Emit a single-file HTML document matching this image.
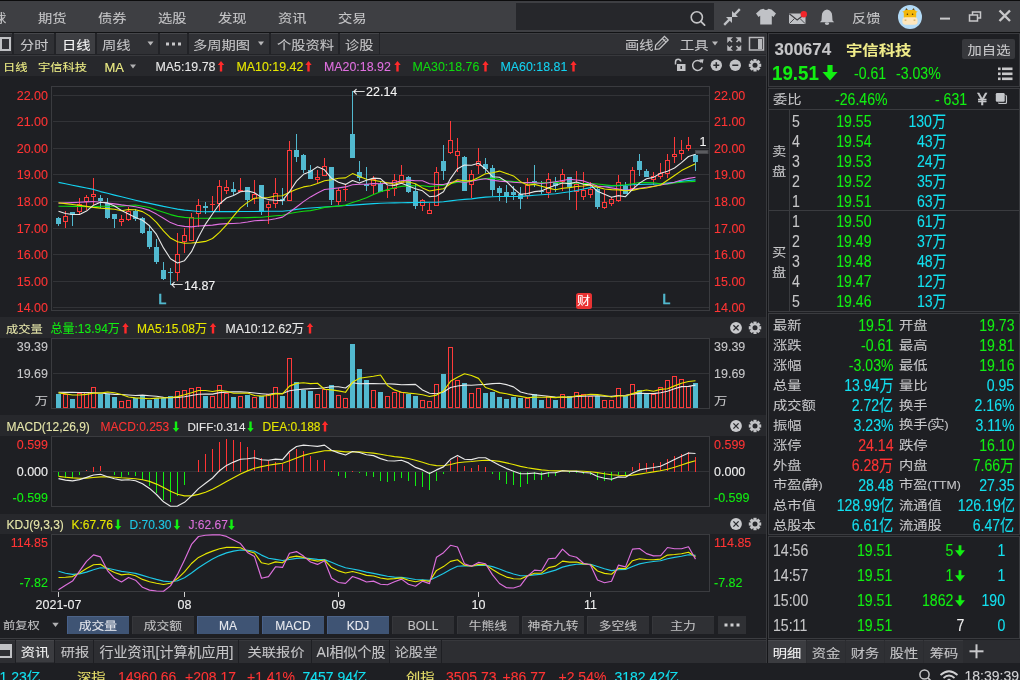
<!DOCTYPE html>
<html><head><meta charset="utf-8"><style>
html,body{margin:0;padding:0;background:#1e1f23;}
body{width:1020px;height:680px;overflow:hidden;position:relative;font-family:"Liberation Sans", "Noto Sans CJK SC", sans-serif;}
.t{position:absolute;white-space:nowrap;-webkit-text-stroke:0.1px currentColor;}
.p{font-size:12px;}
.q{font-size:12px;letter-spacing:-1.3px;}
.cj{transform:scale(1.02,0.87);transform-origin:left center;}
svg{position:absolute;left:0;top:0;}
</style></head><body>
<svg width="1020" height="680" viewBox="0 0 1020 680">
<rect x="0" y="0" width="1020" height="680" fill="#1e1f23" />
<rect x="0" y="0" width="1020" height="1" fill="#0c0c0d" />
<rect x="0" y="1" width="1020" height="31" fill="#3e3f43" />
<rect x="0" y="32" width="1020" height="1" fill="#111214" />
<rect x="0" y="33" width="766" height="22" fill="#303135" />
<rect x="0" y="33" width="766" height="1" fill="#3c3d41" />
<rect x="0" y="54" width="766" height="1" fill="#242529" />
<rect x="0" y="55" width="766" height="1" fill="#38393d" />
<rect x="0" y="56" width="766" height="20" fill="#27282c" />
<rect x="0" y="317" width="766" height="21" fill="#27282c" />
<rect x="0" y="415" width="766" height="21" fill="#27282c" />
<rect x="0" y="514" width="766" height="20" fill="#27282c" />
<rect x="766" y="33" width="2" height="630" fill="#151619" />
<rect x="766" y="33" width="1" height="630" fill="#38393d" />
<rect x="516" y="3" width="198" height="27" fill="#26272b" />
<circle cx="696.8" cy="17.3" r="5.6" fill="none" stroke="#c4c4c6" stroke-width="1.6"/>
<line x1="700.8" y1="21.3" x2="704.6" y2="25.1" stroke="#c4c4c6" stroke-width="1.8" stroke-linecap="round"/>
<g fill="#c0c2c6"><polygon points="732,11 732,17 738,17"/><polygon points="726,17 732,17 732,23"/></g><g stroke="#c0c2c6" stroke-width="2.3" stroke-linecap="square"><line x1="735" y1="14" x2="739" y2="10"/><line x1="729" y1="20" x2="725" y2="24"/></g>
<path d="M760.5,9.5 L763.5,8.8 Q766,11.2 768.5,8.8 L771.5,9.5 L776,13.5 L773.5,17 L771.8,15.8 L771.8,24.5 L760.2,24.5 L760.2,15.8 L758.5,17 L756,13.5 Z" fill="#c0c2c6"/>
<rect x="789" y="13.5" width="16.5" height="10.5" fill="#c0c2c6"/><path d="M789.3,13.8 L797.2,20 L805.2,13.8" fill="none" stroke="#3c3d41" stroke-width="1.1"/><path d="M789.3,23.7 L794.5,18.5 M805.2,23.7 L800,18.5" fill="none" stroke="#3c3d41" stroke-width="0.9"/>
<circle cx="803.8" cy="14.2" r="3.2" fill="#f2262b"/>
<path d="M827,9.5 Q832.2,10.5 832.2,16 L832.5,20.5 L834.2,22.3 L819.8,22.3 L821.5,20.5 L821.8,16 Q821.8,10.5 827,9.5 Z" fill="#c0c2c6"/><ellipse cx="827" cy="23.6" rx="2.2" ry="1.3" fill="#c0c2c6"/>
<circle cx="910" cy="17" r="12" fill="#b3dbf7"/><path d="M905.6,10.6 L906.4,8.6 L907.6,10.4 Z M914.4,10.6 L913.6,8.6 L912.4,10.4 Z" fill="#6b4a12" stroke="#6b4a12" stroke-width="0.8"/><path d="M902.2,11.6 L906,11 L906,14 Z M917.8,11.6 L914,11 L914,14 Z" fill="#f2b50e"/><rect x="903.8" y="10" width="12.4" height="8.6" rx="2.2" fill="#f4b80c"/><rect x="902.4" y="17.2" width="15.2" height="7.6" rx="3.2" fill="#fde6bd"/><circle cx="907.4" cy="14.3" r="0.8" fill="#4a3208"/><circle cx="912.6" cy="14.3" r="0.8" fill="#4a3208"/><rect x="904.6" y="19.4" width="1.8" height="1.6" fill="#d9b878"/><rect x="913.6" y="19.4" width="1.8" height="1.6" fill="#d9b878"/>
<rect x="940" y="17.6" width="10" height="2" fill="#c8c8ca" />
<g fill="none" stroke="#c8c8ca" stroke-width="1.5"><rect x="969.5" y="15" width="8" height="6"/><path d="M972.5,15 L972.5,12 L980.5,12 L980.5,18 L977.5,18"/></g>
<path d="M999.5,10.5 L1010,21 M1010,10.5 L999.5,21" stroke="#c8c8ca" stroke-width="2.4"/>
<rect x="-2" y="33" width="15" height="22" fill="#222327" />
<rect x="-1" y="33" width="13" height="21" fill="#303135" />
<rect x="-1" y="33" width="13" height="1" fill="#46474b" />
<rect x="-3" y="38" width="13" height="12" fill="none" stroke="#c0c1c4" stroke-width="2"/>
<rect x="-3" y="39" width="5" height="10" fill="#c0c1c4" />
<rect x="13" y="33" width="42" height="22" fill="#222327" />
<rect x="14" y="33" width="40" height="21" fill="#303135" />
<rect x="14" y="33" width="40" height="1" fill="#46474b" />
<rect x="55" y="33" width="41" height="22" fill="#222327" />
<rect x="56" y="33" width="39" height="21" fill="#3d3e42" />
<rect x="56" y="33" width="39" height="1" fill="#46474b" />
<rect x="96" y="33" width="63" height="22" fill="#222327" />
<rect x="97" y="33" width="61" height="21" fill="#303135" />
<rect x="97" y="33" width="61" height="1" fill="#46474b" />
<rect x="159" y="33" width="29" height="22" fill="#222327" />
<rect x="160" y="33" width="27" height="21" fill="#303135" />
<rect x="160" y="33" width="27" height="1" fill="#46474b" />
<rect x="188" y="33" width="82" height="22" fill="#222327" />
<rect x="189" y="33" width="80" height="21" fill="#303135" />
<rect x="189" y="33" width="80" height="1" fill="#46474b" />
<rect x="270" y="33" width="69" height="22" fill="#222327" />
<rect x="271" y="33" width="67" height="21" fill="#303135" />
<rect x="271" y="33" width="67" height="1" fill="#46474b" />
<rect x="339" y="33" width="41" height="22" fill="#222327" />
<rect x="340" y="33" width="39" height="21" fill="#303135" />
<rect x="340" y="33" width="39" height="1" fill="#46474b" />
<polygon points="147.5,41.5 153.5,41.5 150.5,45.5" fill="#b8b8ba"/>
<polygon points="258.0,41.5 264.0,41.5 261,45.5" fill="#b8b8ba"/>
<rect x="166.0" y="42.5" width="3" height="3" fill="#c8c8ca" />
<rect x="172.0" y="42.5" width="3" height="3" fill="#c8c8ca" />
<rect x="178.0" y="42.5" width="3" height="3" fill="#c8c8ca" />
<g transform="translate(661,43.5) rotate(135)"><path d="M-7.5,-2.6 L5,-2.6 L8.2,0 L5,2.6 L-7.5,2.6 Z" fill="none" stroke="#c4c4c6" stroke-width="1.3"/><line x1="-4.5" y1="-2.6" x2="-4.5" y2="2.6" stroke="#c4c4c6" stroke-width="1.2"/><line x1="-6.5" y1="0" x2="4" y2="0" stroke="#c4c4c6" stroke-width="0.9"/></g>
<polygon points="712.0,41.5 718.0,41.5 715,45.5" fill="#b8b8ba"/>
<g fill="#b8b9bc" stroke="#b8b9bc" stroke-width="1.6"><path d="M727.5,37.5 L732.5,37.5 L727.5,42.5 Z" stroke-width="0.5"/><line x1="728.5" y1="38.5" x2="732" y2="42"/><path d="M741,37.5 L736,37.5 L741,42.5 Z" stroke-width="0.5"/><line x1="740" y1="38.5" x2="736.5" y2="42"/><path d="M727.5,50.5 L732.5,50.5 L727.5,45.5 Z" stroke-width="0.5"/><line x1="728.5" y1="49.5" x2="732" y2="46"/><path d="M741,50.5 L736,50.5 L741,45.5 Z" stroke-width="0.5"/><line x1="740" y1="49.5" x2="736.5" y2="46"/></g>
<rect x="749.5" y="37.5" width="14" height="12.5" fill="none" stroke="#b8b9bc" stroke-width="1.5"/>
<rect x="758" y="39" width="4" height="10" fill="#b8b9bc" />
<polygon points="130.0,64.5 136.0,64.5 133,68.5" fill="#b0b0b2"/>
<path d="M221.0,61.0 L224.2,65.0 L222.2,65.0 L222.2,71.5 L219.8,71.5 L219.8,65.0 L217.8,65.0 Z" fill="#ff2a2a"/>
<path d="M308.5,61.0 L311.7,65.0 L309.7,65.0 L309.7,71.5 L307.3,71.5 L307.3,65.0 L305.3,65.0 Z" fill="#ff2a2a"/>
<path d="M397.5,61.0 L400.7,65.0 L398.7,65.0 L398.7,71.5 L396.3,71.5 L396.3,65.0 L394.3,65.0 Z" fill="#ff2a2a"/>
<path d="M485.5,61.0 L488.7,65.0 L486.7,65.0 L486.7,71.5 L484.3,71.5 L484.3,65.0 L482.3,65.0 Z" fill="#ff2a2a"/>
<path d="M573.5,61.0 L576.7,65.0 L574.7,65.0 L574.7,71.5 L572.3,71.5 L572.3,65.0 L570.3,65.0 Z" fill="#ff2a2a"/>
<g fill="#c2c3c6"><rect x="677" y="64" width="8.5" height="7"/></g><path d="M675.5,64.5 L675.5,62 Q675.5,59.3 678.2,59.3 Q680.5,59.3 680.8,61.5" fill="none" stroke="#c2c3c6" stroke-width="1.5"/><rect x="680.5" y="66" width="1.4" height="3" fill="#27282c"/>
<path d="M701.5,62.2 A5,5 0 1 0 702.3,67.2" fill="none" stroke="#c2c3c6" stroke-width="1.5"/><polygon points="699.2,59.6 703.6,59.2 702.6,63.6" fill="#c2c3c6"/>
<circle cx="716.3" cy="65.2" r="5.7" fill="#c2c3c6"/>
<rect x="713.3" y="64.5" width="6" height="1.5" fill="#27282c" />
<rect x="715.55" y="62.2" width="1.5" height="6" fill="#27282c" />
<circle cx="735.3" cy="65.2" r="5.7" fill="#c2c3c6"/>
<rect x="732.3" y="64.5" width="6" height="1.5" fill="#27282c" />
<rect x="753.4" y="59.099999999999994" width="3.2" height="3" fill="#c2c3c6" transform="rotate(0 755 65.3)"/><rect x="753.4" y="59.099999999999994" width="3.2" height="3" fill="#c2c3c6" transform="rotate(45 755 65.3)"/><rect x="753.4" y="59.099999999999994" width="3.2" height="3" fill="#c2c3c6" transform="rotate(90 755 65.3)"/><rect x="753.4" y="59.099999999999994" width="3.2" height="3" fill="#c2c3c6" transform="rotate(135 755 65.3)"/><rect x="753.4" y="59.099999999999994" width="3.2" height="3" fill="#c2c3c6" transform="rotate(180 755 65.3)"/><rect x="753.4" y="59.099999999999994" width="3.2" height="3" fill="#c2c3c6" transform="rotate(225 755 65.3)"/><rect x="753.4" y="59.099999999999994" width="3.2" height="3" fill="#c2c3c6" transform="rotate(270 755 65.3)"/><rect x="753.4" y="59.099999999999994" width="3.2" height="3" fill="#c2c3c6" transform="rotate(315 755 65.3)"/><circle cx="755" cy="65.3" r="4.4" fill="#c2c3c6"/><circle cx="755" cy="65.3" r="2.5" fill="#27282c"/>
<rect x="51.5" y="86.5" width="658" height="224" fill="none" stroke="#3a3b3f" stroke-width="1"/>
<line x1="53" y1="95.5" x2="709" y2="95.5" stroke="#323337" stroke-width="1"/>
<line x1="53" y1="121.5" x2="709" y2="121.5" stroke="#323337" stroke-width="1"/>
<line x1="53" y1="148.5" x2="709" y2="148.5" stroke="#323337" stroke-width="1"/>
<line x1="53" y1="174.5" x2="709" y2="174.5" stroke="#323337" stroke-width="1"/>
<line x1="53" y1="201.5" x2="709" y2="201.5" stroke="#323337" stroke-width="1"/>
<line x1="53" y1="228.5" x2="709" y2="228.5" stroke="#323337" stroke-width="1"/>
<line x1="53" y1="254.5" x2="709" y2="254.5" stroke="#323337" stroke-width="1"/>
<line x1="53" y1="281.5" x2="709" y2="281.5" stroke="#323337" stroke-width="1"/>
<line x1="53" y1="307.5" x2="709" y2="307.5" stroke="#323337" stroke-width="1"/>
<g shape-rendering="crispEdges"><rect x="58" y="217" width="1" height="9" fill="#52b9cf"/><rect x="56" y="218" width="5" height="6" fill="#52b9cf"/><rect x="63.5" y="216.5" width="4" height="5" fill="none" stroke="#ff3a3a"/><rect x="65" y="211" width="1" height="5" fill="#ff3a3a"/><rect x="65" y="222" width="1" height="6" fill="#ff3a3a"/><rect x="72" y="212" width="1" height="14" fill="#52b9cf"/><rect x="70" y="212" width="5" height="3" fill="#52b9cf"/><rect x="77.5" y="204.5" width="4" height="7" fill="none" stroke="#ff3a3a"/><rect x="79" y="198" width="1" height="6" fill="#ff3a3a"/><rect x="79" y="212" width="1" height="2" fill="#ff3a3a"/><rect x="84.5" y="197.5" width="4" height="4" fill="none" stroke="#ff3a3a"/><rect x="86" y="195" width="1" height="2" fill="#ff3a3a"/><rect x="86" y="202" width="1" height="8" fill="#ff3a3a"/><rect x="91.5" y="194.5" width="4" height="2" fill="none" stroke="#ff3a3a"/><rect x="93" y="178" width="1" height="16" fill="#ff3a3a"/><rect x="93" y="197" width="1" height="8" fill="#ff3a3a"/><rect x="100" y="195" width="1" height="13" fill="#52b9cf"/><rect x="98" y="198" width="5" height="3" fill="#52b9cf"/><rect x="107" y="198" width="1" height="21" fill="#52b9cf"/><rect x="105" y="203" width="5" height="15" fill="#52b9cf"/><rect x="114" y="214" width="1" height="14" fill="#52b9cf"/><rect x="112" y="214" width="5" height="5" fill="#52b9cf"/><rect x="119.5" y="219.5" width="4" height="2" fill="none" stroke="#ff3a3a"/><rect x="121" y="215" width="1" height="4" fill="#ff3a3a"/><rect x="121" y="222" width="1" height="4" fill="#ff3a3a"/><rect x="126.5" y="211.5" width="4" height="8" fill="none" stroke="#ff3a3a"/><rect x="128" y="207" width="1" height="4" fill="#ff3a3a"/><rect x="128" y="220" width="1" height="1" fill="#ff3a3a"/><rect x="135" y="209" width="1" height="12" fill="#52b9cf"/><rect x="133" y="211" width="5" height="8" fill="#52b9cf"/><rect x="142" y="217" width="1" height="17" fill="#52b9cf"/><rect x="140" y="218" width="5" height="15" fill="#52b9cf"/><rect x="149" y="226" width="1" height="23" fill="#52b9cf"/><rect x="147" y="231" width="5" height="16" fill="#52b9cf"/><rect x="156" y="239" width="1" height="25" fill="#52b9cf"/><rect x="154" y="247" width="5" height="15" fill="#52b9cf"/><rect x="163" y="262" width="1" height="18" fill="#52b9cf"/><rect x="161" y="270" width="5" height="9" fill="#52b9cf"/><rect x="170" y="268" width="1" height="17" fill="#52b9cf"/><rect x="168" y="272" width="5" height="1" fill="#52b9cf"/><rect x="175.5" y="254.5" width="4" height="18" fill="none" stroke="#ff3a3a"/><rect x="177" y="233" width="1" height="21" fill="#ff3a3a"/><rect x="177" y="273" width="1" height="8" fill="#ff3a3a"/><rect x="182.5" y="235.5" width="4" height="6" fill="none" stroke="#ff3a3a"/><rect x="184" y="228" width="1" height="7" fill="#ff3a3a"/><rect x="184" y="242" width="1" height="11" fill="#ff3a3a"/><rect x="189.5" y="217.5" width="4" height="23" fill="none" stroke="#ff3a3a"/><rect x="191" y="213" width="1" height="4" fill="#ff3a3a"/><rect x="196.5" y="205.5" width="4" height="8" fill="none" stroke="#ff3a3a"/><rect x="198" y="199" width="1" height="6" fill="#ff3a3a"/><rect x="198" y="214" width="1" height="13" fill="#ff3a3a"/><rect x="205" y="202" width="1" height="12" fill="#52b9cf"/><rect x="203" y="206" width="5" height="2" fill="#52b9cf"/><rect x="210.5" y="204.5" width="4" height="0.01" fill="none" stroke="#ff3a3a"/><rect x="212" y="196" width="1" height="8" fill="#ff3a3a"/><rect x="212" y="205" width="1" height="6" fill="#ff3a3a"/><rect x="217.5" y="186.5" width="4" height="17" fill="none" stroke="#ff3a3a"/><rect x="219" y="180" width="1" height="6" fill="#ff3a3a"/><rect x="219" y="204" width="1" height="7" fill="#ff3a3a"/><rect x="224.5" y="187.5" width="4" height="3" fill="none" stroke="#ff3a3a"/><rect x="226" y="180" width="1" height="7" fill="#ff3a3a"/><rect x="226" y="191" width="1" height="3" fill="#ff3a3a"/><rect x="233" y="182" width="1" height="13" fill="#52b9cf"/><rect x="231" y="189" width="5" height="3" fill="#52b9cf"/><rect x="238.5" y="190.5" width="4" height="1" fill="none" stroke="#ff3a3a"/><rect x="240" y="178" width="1" height="12" fill="#ff3a3a"/><rect x="247" y="187" width="1" height="20" fill="#52b9cf"/><rect x="245" y="187" width="5" height="13" fill="#52b9cf"/><rect x="252.5" y="194.5" width="4" height="4" fill="none" stroke="#ff3a3a"/><rect x="254" y="180" width="1" height="14" fill="#ff3a3a"/><rect x="254" y="199" width="1" height="5" fill="#ff3a3a"/><rect x="261" y="185" width="1" height="30" fill="#52b9cf"/><rect x="259" y="185" width="5" height="26" fill="#52b9cf"/><rect x="266.5" y="204.5" width="4" height="3" fill="none" stroke="#ff3a3a"/><rect x="268" y="201" width="1" height="3" fill="#ff3a3a"/><rect x="268" y="208" width="1" height="16" fill="#ff3a3a"/><rect x="273.5" y="193.5" width="4" height="10" fill="none" stroke="#ff3a3a"/><rect x="275" y="178" width="1" height="15" fill="#ff3a3a"/><rect x="275" y="204" width="1" height="4" fill="#ff3a3a"/><rect x="282" y="188" width="1" height="17" fill="#52b9cf"/><rect x="280" y="199" width="5" height="2" fill="#52b9cf"/><rect x="287.5" y="150.5" width="4" height="50" fill="none" stroke="#ff3a3a"/><rect x="289" y="141" width="1" height="9" fill="#ff3a3a"/><rect x="296" y="134" width="1" height="28" fill="#52b9cf"/><rect x="294" y="150" width="5" height="7" fill="#52b9cf"/><rect x="303" y="154" width="1" height="19" fill="#52b9cf"/><rect x="301" y="155" width="5" height="15" fill="#52b9cf"/><rect x="310" y="165" width="1" height="14" fill="#52b9cf"/><rect x="308" y="170" width="5" height="9" fill="#52b9cf"/><rect x="315.5" y="177.5" width="4" height="2" fill="none" stroke="#ff3a3a"/><rect x="317" y="170" width="1" height="7" fill="#ff3a3a"/><rect x="317" y="180" width="1" height="3" fill="#ff3a3a"/><rect x="322.5" y="166.5" width="4" height="9" fill="none" stroke="#ff3a3a"/><rect x="324" y="158" width="1" height="8" fill="#ff3a3a"/><rect x="331" y="167" width="1" height="38" fill="#52b9cf"/><rect x="329" y="167" width="5" height="33" fill="#52b9cf"/><rect x="336.5" y="190.5" width="4" height="11" fill="none" stroke="#ff3a3a"/><rect x="338" y="188" width="1" height="2" fill="#ff3a3a"/><rect x="338" y="202" width="1" height="3" fill="#ff3a3a"/><rect x="343.5" y="189.5" width="4" height="0.01" fill="none" stroke="#ff3a3a"/><rect x="345" y="184" width="1" height="5" fill="#ff3a3a"/><rect x="345" y="190" width="1" height="11" fill="#ff3a3a"/><rect x="352" y="91" width="1" height="67" fill="#52b9cf"/><rect x="350" y="134" width="5" height="24" fill="#52b9cf"/><rect x="359" y="161" width="1" height="20" fill="#52b9cf"/><rect x="357" y="172" width="5" height="6" fill="#52b9cf"/><rect x="366" y="167" width="1" height="24" fill="#52b9cf"/><rect x="364" y="184" width="5" height="2" fill="#52b9cf"/><rect x="371.5" y="179.5" width="4" height="6" fill="none" stroke="#ff3a3a"/><rect x="373" y="176" width="1" height="3" fill="#ff3a3a"/><rect x="373" y="186" width="1" height="8" fill="#ff3a3a"/><rect x="380" y="182" width="1" height="10" fill="#52b9cf"/><rect x="378" y="184" width="5" height="8" fill="#52b9cf"/><rect x="385.5" y="190.5" width="4" height="0.01" fill="none" stroke="#ff3a3a"/><rect x="387" y="186" width="1" height="4" fill="#ff3a3a"/><rect x="387" y="191" width="1" height="7" fill="#ff3a3a"/><rect x="392.5" y="180.5" width="4" height="8" fill="none" stroke="#ff3a3a"/><rect x="394" y="174" width="1" height="6" fill="#ff3a3a"/><rect x="394" y="189" width="1" height="7" fill="#ff3a3a"/><rect x="399.5" y="175.5" width="4" height="7" fill="none" stroke="#ff3a3a"/><rect x="401" y="165" width="1" height="10" fill="#ff3a3a"/><rect x="401" y="183" width="1" height="1" fill="#ff3a3a"/><rect x="408" y="176" width="1" height="17" fill="#52b9cf"/><rect x="406" y="177" width="5" height="15" fill="#52b9cf"/><rect x="415" y="184" width="1" height="25" fill="#52b9cf"/><rect x="413" y="191" width="5" height="15" fill="#52b9cf"/><rect x="420.5" y="200.5" width="4" height="5" fill="none" stroke="#ff3a3a"/><rect x="422" y="199" width="1" height="1" fill="#ff3a3a"/><rect x="422" y="206" width="1" height="5" fill="#ff3a3a"/><rect x="427.5" y="210.5" width="4" height="3" fill="none" stroke="#ff3a3a"/><rect x="429" y="203" width="1" height="7" fill="#ff3a3a"/><rect x="434.5" y="172.5" width="4" height="33" fill="none" stroke="#ff3a3a"/><rect x="436" y="167" width="1" height="5" fill="#ff3a3a"/><rect x="443" y="145" width="1" height="35" fill="#52b9cf"/><rect x="441" y="161" width="5" height="10" fill="#52b9cf"/><rect x="448.5" y="140.5" width="4" height="12" fill="none" stroke="#ff3a3a"/><rect x="450" y="121" width="1" height="19" fill="#ff3a3a"/><rect x="450" y="153" width="1" height="1" fill="#ff3a3a"/><rect x="455.5" y="151.5" width="4" height="4" fill="none" stroke="#ff3a3a"/><rect x="457" y="138" width="1" height="13" fill="#ff3a3a"/><rect x="457" y="156" width="1" height="16" fill="#ff3a3a"/><rect x="464" y="156" width="1" height="35" fill="#52b9cf"/><rect x="462" y="157" width="5" height="34" fill="#52b9cf"/><rect x="469.5" y="174.5" width="4" height="10" fill="none" stroke="#ff3a3a"/><rect x="471" y="170" width="1" height="4" fill="#ff3a3a"/><rect x="471" y="185" width="1" height="13" fill="#ff3a3a"/><rect x="476.5" y="161.5" width="4" height="4" fill="none" stroke="#ff3a3a"/><rect x="478" y="148" width="1" height="13" fill="#ff3a3a"/><rect x="478" y="166" width="1" height="8" fill="#ff3a3a"/><rect x="485" y="158" width="1" height="15" fill="#52b9cf"/><rect x="483" y="164" width="5" height="5" fill="#52b9cf"/><rect x="492" y="165" width="1" height="31" fill="#52b9cf"/><rect x="490" y="168" width="5" height="22" fill="#52b9cf"/><rect x="499" y="186" width="1" height="15" fill="#52b9cf"/><rect x="497" y="188" width="5" height="5" fill="#52b9cf"/><rect x="506" y="185" width="1" height="18" fill="#52b9cf"/><rect x="504" y="192" width="5" height="4" fill="#52b9cf"/><rect x="513" y="186" width="1" height="14" fill="#52b9cf"/><rect x="511" y="192" width="5" height="3" fill="#52b9cf"/><rect x="520" y="187" width="1" height="22" fill="#52b9cf"/><rect x="518" y="194" width="5" height="5" fill="#52b9cf"/><rect x="525.5" y="185.5" width="4" height="10" fill="none" stroke="#ff3a3a"/><rect x="527" y="178" width="1" height="7" fill="#ff3a3a"/><rect x="527" y="196" width="1" height="3" fill="#ff3a3a"/><rect x="534" y="165" width="1" height="22" fill="#52b9cf"/><rect x="532" y="181" width="5" height="2" fill="#52b9cf"/><rect x="541" y="181" width="1" height="13" fill="#52b9cf"/><rect x="539" y="191" width="5" height="1" fill="#52b9cf"/><rect x="546.5" y="179.5" width="4" height="13" fill="none" stroke="#ff3a3a"/><rect x="548" y="173" width="1" height="6" fill="#ff3a3a"/><rect x="548" y="193" width="1" height="5" fill="#ff3a3a"/><rect x="555" y="177" width="1" height="15" fill="#52b9cf"/><rect x="553" y="183" width="5" height="3" fill="#52b9cf"/><rect x="560.5" y="174.5" width="4" height="7" fill="none" stroke="#ff3a3a"/><rect x="562" y="169" width="1" height="5" fill="#ff3a3a"/><rect x="562" y="182" width="1" height="9" fill="#ff3a3a"/><rect x="569" y="177" width="1" height="23" fill="#52b9cf"/><rect x="567" y="177" width="5" height="10" fill="#52b9cf"/><rect x="574.5" y="184.5" width="4" height="7" fill="none" stroke="#ff3a3a"/><rect x="576" y="171" width="1" height="13" fill="#ff3a3a"/><rect x="576" y="192" width="1" height="18" fill="#ff3a3a"/><rect x="581.5" y="190.5" width="4" height="6" fill="none" stroke="#ff3a3a"/><rect x="583" y="172" width="1" height="18" fill="#ff3a3a"/><rect x="583" y="197" width="1" height="3" fill="#ff3a3a"/><rect x="588.5" y="189.5" width="4" height="5" fill="none" stroke="#ff3a3a"/><rect x="590" y="182" width="1" height="7" fill="#ff3a3a"/><rect x="590" y="195" width="1" height="3" fill="#ff3a3a"/><rect x="597" y="187" width="1" height="22" fill="#52b9cf"/><rect x="595" y="189" width="5" height="18" fill="#52b9cf"/><rect x="602.5" y="202.5" width="4" height="5" fill="none" stroke="#ff3a3a"/><rect x="604" y="190" width="1" height="12" fill="#ff3a3a"/><rect x="604" y="208" width="1" height="1" fill="#ff3a3a"/><rect x="609.5" y="199.5" width="4" height="4" fill="none" stroke="#ff3a3a"/><rect x="611" y="197" width="1" height="2" fill="#ff3a3a"/><rect x="611" y="204" width="1" height="2" fill="#ff3a3a"/><rect x="616.5" y="182.5" width="4" height="18" fill="none" stroke="#ff3a3a"/><rect x="618" y="175" width="1" height="7" fill="#ff3a3a"/><rect x="618" y="201" width="1" height="1" fill="#ff3a3a"/><rect x="625" y="182" width="1" height="12" fill="#52b9cf"/><rect x="623" y="186" width="5" height="8" fill="#52b9cf"/><rect x="630.5" y="170.5" width="4" height="18" fill="none" stroke="#ff3a3a"/><rect x="632" y="167" width="1" height="3" fill="#ff3a3a"/><rect x="639" y="154" width="1" height="22" fill="#52b9cf"/><rect x="637" y="161" width="5" height="9" fill="#52b9cf"/><rect x="646" y="169" width="1" height="8" fill="#52b9cf"/><rect x="644" y="171" width="5" height="6" fill="#52b9cf"/><rect x="651.5" y="176.5" width="4" height="3" fill="none" stroke="#ff3a3a"/><rect x="653" y="172" width="1" height="4" fill="#ff3a3a"/><rect x="653" y="180" width="1" height="5" fill="#ff3a3a"/><rect x="658.5" y="173.5" width="4" height="3" fill="none" stroke="#ff3a3a"/><rect x="660" y="163" width="1" height="10" fill="#ff3a3a"/><rect x="660" y="177" width="1" height="2" fill="#ff3a3a"/><rect x="665.5" y="160.5" width="4" height="13" fill="none" stroke="#ff3a3a"/><rect x="667" y="154" width="1" height="6" fill="#ff3a3a"/><rect x="667" y="174" width="1" height="4" fill="#ff3a3a"/><rect x="672.5" y="154.5" width="4" height="2" fill="none" stroke="#ff3a3a"/><rect x="674" y="137" width="1" height="17" fill="#ff3a3a"/><rect x="674" y="157" width="1" height="6" fill="#ff3a3a"/><rect x="679.5" y="150.5" width="4" height="3" fill="none" stroke="#ff3a3a"/><rect x="681" y="140" width="1" height="10" fill="#ff3a3a"/><rect x="681" y="154" width="1" height="6" fill="#ff3a3a"/><rect x="686.5" y="145.5" width="4" height="3" fill="none" stroke="#ff3a3a"/><rect x="688" y="137" width="1" height="8" fill="#ff3a3a"/><rect x="688" y="149" width="1" height="2" fill="#ff3a3a"/><rect x="695" y="154" width="1" height="17" fill="#52b9cf"/><rect x="693" y="155" width="5" height="7" fill="#52b9cf"/></g>
<polyline points="58.5,182.4 65.5,183.8 72.5,185.2 79.5,186.6 86.5,188.0 93.5,189.4 100.5,191.6 107.5,193.3 114.5,195.1 121.5,196.8 128.5,198.5 135.5,200.2 142.5,201.9 149.5,203.4 156.5,204.9 163.5,206.4 170.5,207.7 177.5,209.1 184.5,210.1 191.5,210.8 198.5,211.5 205.5,211.7 212.5,211.6 219.5,211.6 226.5,211.6 233.5,211.6 240.5,211.5 247.5,211.5 254.5,211.5 261.5,211.4 268.5,211.3 275.5,211.3 282.5,211.2 289.5,210.5 296.5,209.4 303.5,208.5 310.5,208.0 317.5,207.5 324.5,207.0 331.5,206.5 338.5,206.0 345.5,205.5 352.5,205.1 359.5,204.6 366.5,204.1 373.5,203.6 380.5,203.2 387.5,203.0 394.5,202.9 401.5,202.8 408.5,202.6 415.5,202.5 422.5,202.4 429.5,202.3 436.5,202.2 443.5,201.8 450.5,200.9 457.5,200.0 464.5,199.4 471.5,198.9 478.5,197.9 485.5,197.1 492.5,196.7 499.5,196.5 506.5,196.5 513.5,196.5 520.5,196.4 527.5,195.9 534.5,195.3 541.5,194.8 548.5,194.3 555.5,193.8 562.5,192.8 569.5,191.8 576.5,190.5 583.5,189.0 590.5,187.6 597.5,186.8 604.5,186.2 611.5,185.9 618.5,185.6 625.5,185.3 632.5,184.8 639.5,184.5 646.5,184.3 653.5,184.1 660.5,183.8 667.5,183.1 674.5,182.4 681.5,181.4 688.5,180.5 695.5,179.9" fill="none" stroke="#14d2f0" stroke-width="1.1" stroke-linejoin="round"/>
<polyline points="58.5,206.2 65.5,206.3 72.5,206.4 79.5,206.5 86.5,206.6 93.5,206.7 100.5,206.2 107.5,206.2 114.5,206.2 121.5,206.1 128.5,205.5 135.5,205.0 142.5,206.2 149.5,207.5 156.5,209.9 163.5,212.3 170.5,214.6 177.5,216.4 184.5,217.4 191.5,218.0 198.5,218.3 205.5,218.3 212.5,218.2 219.5,218.1 226.5,218.0 233.5,217.8 240.5,217.7 247.5,217.6 254.5,217.4 261.5,217.2 268.5,216.5 275.5,215.7 282.5,215.3 289.5,213.5 296.5,212.2 303.5,211.3 310.5,210.6 317.5,209.2 324.5,207.4 331.5,206.8 338.5,206.1 345.5,205.1 352.5,202.6 359.5,200.3 366.5,197.8 373.5,194.4 380.5,191.7 387.5,189.6 394.5,187.8 401.5,186.4 408.5,185.9 415.5,185.8 422.5,185.7 429.5,186.6 436.5,186.0 443.5,185.3 450.5,183.7 457.5,182.1 464.5,181.9 471.5,180.7 478.5,179.3 485.5,178.5 492.5,178.1 499.5,179.5 506.5,180.8 513.5,181.6 520.5,182.3 527.5,182.6 534.5,183.1 541.5,182.9 548.5,182.5 555.5,182.4 562.5,183.0 569.5,183.2 576.5,183.2 583.5,183.6 590.5,183.5 597.5,184.0 604.5,184.7 611.5,185.5 618.5,185.2 625.5,184.8 632.5,183.8 639.5,182.5 646.5,182.6 653.5,182.8 660.5,183.9 667.5,184.2 674.5,183.0 681.5,182.2 688.5,181.7 695.5,181.4" fill="none" stroke="#10d810" stroke-width="1.1" stroke-linejoin="round"/>
<polyline points="58.5,203.3 65.5,202.9 72.5,202.6 79.5,202.2 86.5,201.9 93.5,201.5 100.5,202.3 107.5,203.0 114.5,203.9 121.5,204.9 128.5,205.7 135.5,206.8 142.5,208.3 149.5,210.4 156.5,214.1 163.5,218.2 170.5,222.6 177.5,225.2 184.5,226.4 191.5,226.9 198.5,226.0 205.5,225.6 212.5,225.1 219.5,224.1 226.5,223.6 233.5,223.5 240.5,223.0 247.5,222.0 254.5,220.8 261.5,220.4 268.5,220.0 275.5,218.7 282.5,217.1 289.5,212.3 296.5,207.0 303.5,201.6 310.5,196.9 317.5,193.0 324.5,189.5 331.5,188.7 338.5,187.9 345.5,186.9 352.5,184.7 359.5,184.3 366.5,184.2 373.5,183.6 380.5,183.7 387.5,183.2 394.5,182.5 401.5,180.7 408.5,180.1 415.5,180.8 422.5,180.8 429.5,183.7 436.5,184.5 443.5,184.5 450.5,182.6 457.5,181.3 464.5,182.5 471.5,181.2 478.5,179.8 485.5,178.7 492.5,180.3 499.5,181.1 506.5,181.6 513.5,182.3 520.5,182.7 527.5,182.5 534.5,182.6 541.5,183.5 548.5,182.8 555.5,181.8 562.5,180.5 569.5,179.3 576.5,180.0 583.5,180.9 590.5,183.4 597.5,186.1 604.5,186.7 611.5,187.9 618.5,189.0 625.5,190.3 632.5,189.3 639.5,188.2 646.5,187.2 653.5,186.3 660.5,185.0 667.5,183.7 674.5,182.3 681.5,180.1 688.5,178.4 695.5,177.2" fill="none" stroke="#e070e0" stroke-width="1.1" stroke-linejoin="round"/>
<polyline points="58.5,202.7 65.5,203.6 72.5,204.5 79.5,205.4 86.5,206.4 93.5,207.4 100.5,208.1 107.5,208.6 114.5,209.2 121.5,210.8 128.5,209.5 135.5,209.8 142.5,211.6 149.5,215.9 156.5,222.4 163.5,230.9 170.5,238.1 177.5,241.7 184.5,243.3 191.5,243.0 198.5,242.4 205.5,241.4 212.5,238.5 219.5,232.3 226.5,224.9 233.5,216.2 240.5,207.9 247.5,202.4 254.5,198.3 261.5,197.7 268.5,197.5 275.5,196.0 282.5,195.7 289.5,192.2 296.5,189.2 303.5,186.9 310.5,185.8 317.5,183.6 324.5,180.8 331.5,179.7 338.5,178.3 345.5,177.9 352.5,173.6 359.5,176.4 366.5,179.2 373.5,180.2 380.5,181.5 387.5,182.8 394.5,184.2 401.5,181.8 408.5,182.0 415.5,183.7 422.5,187.9 429.5,191.0 436.5,189.7 443.5,188.8 450.5,183.7 457.5,179.8 464.5,180.8 471.5,180.7 478.5,177.5 485.5,173.8 492.5,172.8 499.5,171.1 506.5,173.5 513.5,175.9 520.5,181.7 527.5,185.1 534.5,184.4 541.5,186.2 548.5,188.1 555.5,189.8 562.5,188.2 569.5,187.6 576.5,186.5 583.5,186.0 590.5,185.0 597.5,187.1 604.5,189.0 611.5,189.6 618.5,189.9 625.5,190.8 632.5,190.4 639.5,188.7 646.5,188.0 653.5,186.5 660.5,185.0 667.5,180.3 674.5,175.5 681.5,170.6 688.5,166.9 695.5,163.7" fill="none" stroke="#e6e600" stroke-width="1.1" stroke-linejoin="round"/>
<polyline points="58.5,211.2 65.5,213.5 72.5,214.5 79.5,214.5 86.5,211.1 93.5,205.2 100.5,202.2 107.5,202.9 114.5,206.0 121.5,210.5 128.5,213.9 135.5,217.4 142.5,220.3 149.5,225.8 156.5,234.4 163.5,247.9 170.5,258.7 177.5,263.0 184.5,260.7 191.5,251.7 198.5,237.0 205.5,224.1 212.5,214.0 219.5,204.0 226.5,198.0 233.5,195.4 240.5,191.7 247.5,190.9 254.5,192.7 261.5,197.4 268.5,199.6 275.5,200.3 282.5,200.6 289.5,191.7 296.5,181.1 303.5,174.3 310.5,171.4 317.5,166.7 324.5,169.8 331.5,178.3 338.5,182.3 345.5,184.4 352.5,180.5 359.5,183.1 366.5,180.2 373.5,178.1 380.5,178.6 387.5,185.0 394.5,185.4 401.5,183.3 408.5,185.9 415.5,188.7 422.5,190.8 429.5,196.7 436.5,196.0 443.5,191.8 450.5,178.6 457.5,168.8 464.5,165.0 471.5,165.3 478.5,163.3 485.5,169.0 492.5,176.7 499.5,177.2 506.5,181.6 513.5,188.5 520.5,194.4 527.5,193.5 534.5,191.6 541.5,190.9 548.5,187.8 555.5,185.2 562.5,183.0 569.5,183.6 576.5,182.0 583.5,184.2 590.5,184.9 597.5,191.3 604.5,194.3 611.5,197.3 618.5,195.6 625.5,196.7 632.5,189.4 639.5,183.1 646.5,178.7 653.5,177.4 660.5,173.2 667.5,171.2 674.5,168.0 681.5,162.6 688.5,156.5 695.5,154.2" fill="none" stroke="#e6e6e6" stroke-width="1.1" stroke-linejoin="round"/>
<rect x="576" y="293" width="16" height="16" fill="#e83333" rx="2.5"/>
<rect x="695.5" y="150.5" width="12.5" height="3" fill="#5b5c60" stroke="#48494d" stroke-width="1"/>
<rect x="51.5" y="338.5" width="658" height="70" fill="none" stroke="#3a3b3f" stroke-width="1"/>
<line x1="53" y1="373.5" x2="709" y2="373.5" stroke="#323337" stroke-width="1"/>
<g shape-rendering="crispEdges"><rect x="56" y="394" width="5" height="14" fill="#52b9cf"/><rect x="63.5" y="394.5" width="4" height="13" fill="none" stroke="#ff3a3a"/><rect x="70" y="399" width="5" height="9" fill="#52b9cf"/><rect x="77.5" y="393.5" width="4" height="14" fill="none" stroke="#ff3a3a"/><rect x="84.5" y="392.5" width="4" height="15" fill="none" stroke="#ff3a3a"/><rect x="91.5" y="387.5" width="4" height="20" fill="none" stroke="#ff3a3a"/><rect x="98" y="394" width="5" height="14" fill="#52b9cf"/><rect x="105" y="394" width="5" height="14" fill="#52b9cf"/><rect x="112" y="397" width="5" height="11" fill="#52b9cf"/><rect x="119.5" y="401.5" width="4" height="6" fill="none" stroke="#ff3a3a"/><rect x="126.5" y="400.5" width="4" height="7" fill="none" stroke="#ff3a3a"/><rect x="133" y="398" width="5" height="10" fill="#52b9cf"/><rect x="140" y="395" width="5" height="13" fill="#52b9cf"/><rect x="147" y="400" width="5" height="8" fill="#52b9cf"/><rect x="154" y="398" width="5" height="10" fill="#52b9cf"/><rect x="161" y="398" width="5" height="10" fill="#52b9cf"/><rect x="168" y="396" width="5" height="12" fill="#52b9cf"/><rect x="175.5" y="391.5" width="4" height="16" fill="none" stroke="#ff3a3a"/><rect x="182.5" y="390.5" width="4" height="17" fill="none" stroke="#ff3a3a"/><rect x="189.5" y="388.5" width="4" height="19" fill="none" stroke="#ff3a3a"/><rect x="196.5" y="387.5" width="4" height="20" fill="none" stroke="#ff3a3a"/><rect x="203" y="396" width="5" height="12" fill="#52b9cf"/><rect x="210.5" y="396.5" width="4" height="11" fill="none" stroke="#ff3a3a"/><rect x="217.5" y="385.5" width="4" height="22" fill="none" stroke="#ff3a3a"/><rect x="224.5" y="393.5" width="4" height="14" fill="none" stroke="#ff3a3a"/><rect x="231" y="397" width="5" height="11" fill="#52b9cf"/><rect x="238.5" y="396.5" width="4" height="11" fill="none" stroke="#ff3a3a"/><rect x="245" y="395" width="5" height="13" fill="#52b9cf"/><rect x="252.5" y="397.5" width="4" height="10" fill="none" stroke="#ff3a3a"/><rect x="259" y="396" width="5" height="12" fill="#52b9cf"/><rect x="266.5" y="394.5" width="4" height="13" fill="none" stroke="#ff3a3a"/><rect x="273.5" y="387.5" width="4" height="20" fill="none" stroke="#ff3a3a"/><rect x="280" y="396" width="5" height="12" fill="#52b9cf"/><rect x="287.5" y="358.5" width="4" height="49" fill="none" stroke="#ff3a3a"/><rect x="294" y="382" width="5" height="26" fill="#52b9cf"/><rect x="301" y="390" width="5" height="18" fill="#52b9cf"/><rect x="308" y="391" width="5" height="17" fill="#52b9cf"/><rect x="315.5" y="394.5" width="4" height="13" fill="none" stroke="#ff3a3a"/><rect x="322.5" y="389.5" width="4" height="18" fill="none" stroke="#ff3a3a"/><rect x="329" y="385" width="5" height="23" fill="#52b9cf"/><rect x="336.5" y="395.5" width="4" height="12" fill="none" stroke="#ff3a3a"/><rect x="343.5" y="398.5" width="4" height="9" fill="none" stroke="#ff3a3a"/><rect x="350" y="344" width="5" height="64" fill="#52b9cf"/><rect x="357" y="369" width="5" height="39" fill="#52b9cf"/><rect x="364" y="380" width="5" height="28" fill="#52b9cf"/><rect x="371.5" y="390.5" width="4" height="17" fill="none" stroke="#ff3a3a"/><rect x="378" y="392" width="5" height="16" fill="#52b9cf"/><rect x="385.5" y="396.5" width="4" height="11" fill="none" stroke="#ff3a3a"/><rect x="392.5" y="392.5" width="4" height="15" fill="none" stroke="#ff3a3a"/><rect x="399.5" y="392.5" width="4" height="15" fill="none" stroke="#ff3a3a"/><rect x="406" y="394" width="5" height="14" fill="#52b9cf"/><rect x="413" y="396" width="5" height="12" fill="#52b9cf"/><rect x="420.5" y="400.5" width="4" height="7" fill="none" stroke="#ff3a3a"/><rect x="427.5" y="401.5" width="4" height="6" fill="none" stroke="#ff3a3a"/><rect x="434.5" y="384.5" width="4" height="23" fill="none" stroke="#ff3a3a"/><rect x="441" y="374" width="5" height="34" fill="#52b9cf"/><rect x="448.5" y="347.5" width="4" height="60" fill="none" stroke="#ff3a3a"/><rect x="455.5" y="380.5" width="4" height="27" fill="none" stroke="#ff3a3a"/><rect x="462" y="383" width="5" height="25" fill="#52b9cf"/><rect x="469.5" y="393.5" width="4" height="14" fill="none" stroke="#ff3a3a"/><rect x="476.5" y="388.5" width="4" height="19" fill="none" stroke="#ff3a3a"/><rect x="483" y="393" width="5" height="15" fill="#52b9cf"/><rect x="490" y="392" width="5" height="16" fill="#52b9cf"/><rect x="497" y="397" width="5" height="11" fill="#52b9cf"/><rect x="504" y="399" width="5" height="9" fill="#52b9cf"/><rect x="511" y="397" width="5" height="11" fill="#52b9cf"/><rect x="518" y="398" width="5" height="10" fill="#52b9cf"/><rect x="525.5" y="398.5" width="4" height="9" fill="none" stroke="#ff3a3a"/><rect x="532" y="394" width="5" height="14" fill="#52b9cf"/><rect x="539" y="400" width="5" height="8" fill="#52b9cf"/><rect x="546.5" y="396.5" width="4" height="11" fill="none" stroke="#ff3a3a"/><rect x="553" y="400" width="5" height="8" fill="#52b9cf"/><rect x="560.5" y="394.5" width="4" height="13" fill="none" stroke="#ff3a3a"/><rect x="567" y="396" width="5" height="12" fill="#52b9cf"/><rect x="574.5" y="392.5" width="4" height="15" fill="none" stroke="#ff3a3a"/><rect x="581.5" y="394.5" width="4" height="13" fill="none" stroke="#ff3a3a"/><rect x="588.5" y="396.5" width="4" height="11" fill="none" stroke="#ff3a3a"/><rect x="595" y="396" width="5" height="12" fill="#52b9cf"/><rect x="602.5" y="400.5" width="4" height="7" fill="none" stroke="#ff3a3a"/><rect x="609.5" y="400.5" width="4" height="7" fill="none" stroke="#ff3a3a"/><rect x="616.5" y="388.5" width="4" height="19" fill="none" stroke="#ff3a3a"/><rect x="623" y="396" width="5" height="12" fill="#52b9cf"/><rect x="630.5" y="384.5" width="4" height="23" fill="none" stroke="#ff3a3a"/><rect x="637" y="390" width="5" height="18" fill="#52b9cf"/><rect x="644" y="393" width="5" height="15" fill="#52b9cf"/><rect x="651.5" y="394.5" width="4" height="13" fill="none" stroke="#ff3a3a"/><rect x="658.5" y="387.5" width="4" height="20" fill="none" stroke="#ff3a3a"/><rect x="665.5" y="380.5" width="4" height="27" fill="none" stroke="#ff3a3a"/><rect x="672.5" y="376.5" width="4" height="31" fill="none" stroke="#ff3a3a"/><rect x="679.5" y="379.5" width="4" height="28" fill="none" stroke="#ff3a3a"/><rect x="686.5" y="386.5" width="4" height="21" fill="none" stroke="#ff3a3a"/><rect x="693" y="383" width="5" height="25" fill="#52b9cf"/></g>
<polyline points="58.5,392.3 65.5,392.4 72.5,392.4 79.5,392.5 86.5,392.6 93.5,392.8 100.5,393.0 107.5,393.7 114.5,394.4 121.5,394.5 128.5,395.0 135.5,395.5 142.5,395.1 149.5,395.7 156.5,396.3 163.5,397.4 170.5,397.7 177.5,397.4 184.5,396.8 191.5,395.5 198.5,394.2 205.5,394.0 212.5,394.1 219.5,392.6 226.5,392.1 233.5,391.9 240.5,391.9 247.5,392.3 254.5,393.0 261.5,393.7 268.5,394.3 275.5,393.4 282.5,393.5 289.5,390.8 296.5,389.8 303.5,389.1 310.5,388.6 317.5,388.5 324.5,387.7 331.5,386.7 338.5,386.8 345.5,388.0 352.5,382.7 359.5,383.8 366.5,383.6 373.5,383.6 380.5,383.7 387.5,383.8 394.5,384.1 401.5,384.7 408.5,384.6 415.5,384.4 422.5,390.0 429.5,393.2 436.5,393.7 443.5,392.0 450.5,387.5 457.5,386.0 464.5,385.1 471.5,385.3 478.5,384.7 485.5,384.4 492.5,383.6 499.5,383.2 506.5,384.6 513.5,386.9 520.5,392.0 527.5,393.7 534.5,394.9 541.5,395.5 548.5,396.3 555.5,397.0 562.5,397.3 569.5,397.2 576.5,396.5 583.5,396.2 590.5,396.0 597.5,395.7 604.5,396.3 611.5,396.4 618.5,395.5 625.5,395.2 632.5,394.1 639.5,393.4 646.5,393.5 653.5,393.6 660.5,392.7 667.5,391.2 674.5,388.7 681.5,386.6 688.5,386.4 695.5,385.1" fill="none" stroke="#e8e8e8" stroke-width="1.15" stroke-linejoin="round"/>
<polyline points="58.5,392.9 65.5,393.9 72.5,395.0 79.5,395.0 86.5,394.4 93.5,393.1 100.5,393.1 107.5,392.0 114.5,392.7 121.5,394.5 128.5,397.0 135.5,397.9 142.5,398.2 149.5,398.8 156.5,398.1 163.5,397.9 170.5,397.5 177.5,396.6 184.5,394.8 191.5,392.8 198.5,390.5 205.5,390.5 212.5,391.5 219.5,390.4 226.5,391.3 233.5,393.2 240.5,393.3 247.5,393.0 254.5,395.5 261.5,396.1 268.5,395.5 275.5,393.6 282.5,393.9 289.5,386.1 296.5,383.4 303.5,382.7 310.5,383.6 317.5,383.2 324.5,389.3 331.5,389.9 338.5,390.9 345.5,392.3 352.5,382.3 359.5,378.3 366.5,377.2 373.5,376.2 380.5,375.0 387.5,385.4 394.5,389.9 401.5,392.2 408.5,393.1 415.5,393.8 422.5,394.7 429.5,396.5 436.5,395.1 443.5,391.0 450.5,381.3 457.5,377.3 464.5,373.8 471.5,375.5 478.5,378.4 485.5,387.5 492.5,389.8 499.5,392.6 506.5,393.7 513.5,395.4 520.5,396.4 527.5,397.7 534.5,397.1 541.5,397.3 548.5,397.1 555.5,397.6 562.5,396.9 569.5,397.2 576.5,395.7 583.5,395.2 590.5,394.3 597.5,394.6 604.5,395.5 611.5,397.0 618.5,395.9 625.5,396.0 632.5,393.6 639.5,391.4 646.5,390.0 653.5,391.3 660.5,389.4 667.5,388.8 674.5,385.9 681.5,383.2 688.5,381.5 695.5,380.7" fill="none" stroke="#e6e600" stroke-width="1.15" stroke-linejoin="round"/>
<path d="M125.5,323.0 L128.7,327.0 L126.7,327.0 L126.7,333.5 L124.3,333.5 L124.3,327.0 L122.3,327.0 Z" fill="#ff2a2a"/>
<path d="M213,323.0 L216.2,327.0 L214.2,327.0 L214.2,333.5 L211.8,333.5 L211.8,327.0 L209.8,327.0 Z" fill="#ff2a2a"/>
<path d="M310,323.0 L313.2,327.0 L311.2,327.0 L311.2,333.5 L308.8,333.5 L308.8,327.0 L306.8,327.0 Z" fill="#ff2a2a"/>
<circle cx="736" cy="327.8" r="5.9" fill="#c8c9cc"/><path d="M733.4,325.2 L738.6,330.40000000000003 M738.6,325.2 L733.4,330.40000000000003" stroke="#27282c" stroke-width="1.3"/>
<rect x="753.4" y="321.6" width="3.2" height="3" fill="#c2c3c6" transform="rotate(0 755 327.8)"/><rect x="753.4" y="321.6" width="3.2" height="3" fill="#c2c3c6" transform="rotate(45 755 327.8)"/><rect x="753.4" y="321.6" width="3.2" height="3" fill="#c2c3c6" transform="rotate(90 755 327.8)"/><rect x="753.4" y="321.6" width="3.2" height="3" fill="#c2c3c6" transform="rotate(135 755 327.8)"/><rect x="753.4" y="321.6" width="3.2" height="3" fill="#c2c3c6" transform="rotate(180 755 327.8)"/><rect x="753.4" y="321.6" width="3.2" height="3" fill="#c2c3c6" transform="rotate(225 755 327.8)"/><rect x="753.4" y="321.6" width="3.2" height="3" fill="#c2c3c6" transform="rotate(270 755 327.8)"/><rect x="753.4" y="321.6" width="3.2" height="3" fill="#c2c3c6" transform="rotate(315 755 327.8)"/><circle cx="755" cy="327.8" r="4.4" fill="#c2c3c6"/><circle cx="755" cy="327.8" r="2.5" fill="#27282c"/>
<circle cx="736" cy="426" r="5.9" fill="#c8c9cc"/><path d="M733.4,423.4 L738.6,428.6 M738.6,423.4 L733.4,428.6" stroke="#27282c" stroke-width="1.3"/>
<rect x="753.4" y="419.8" width="3.2" height="3" fill="#c2c3c6" transform="rotate(0 755 426)"/><rect x="753.4" y="419.8" width="3.2" height="3" fill="#c2c3c6" transform="rotate(45 755 426)"/><rect x="753.4" y="419.8" width="3.2" height="3" fill="#c2c3c6" transform="rotate(90 755 426)"/><rect x="753.4" y="419.8" width="3.2" height="3" fill="#c2c3c6" transform="rotate(135 755 426)"/><rect x="753.4" y="419.8" width="3.2" height="3" fill="#c2c3c6" transform="rotate(180 755 426)"/><rect x="753.4" y="419.8" width="3.2" height="3" fill="#c2c3c6" transform="rotate(225 755 426)"/><rect x="753.4" y="419.8" width="3.2" height="3" fill="#c2c3c6" transform="rotate(270 755 426)"/><rect x="753.4" y="419.8" width="3.2" height="3" fill="#c2c3c6" transform="rotate(315 755 426)"/><circle cx="755" cy="426" r="4.4" fill="#c2c3c6"/><circle cx="755" cy="426" r="2.5" fill="#27282c"/>
<circle cx="736" cy="524" r="5.9" fill="#c8c9cc"/><path d="M733.4,521.4 L738.6,526.6 M738.6,521.4 L733.4,526.6" stroke="#27282c" stroke-width="1.3"/>
<rect x="753.4" y="517.8" width="3.2" height="3" fill="#c2c3c6" transform="rotate(0 755 524)"/><rect x="753.4" y="517.8" width="3.2" height="3" fill="#c2c3c6" transform="rotate(45 755 524)"/><rect x="753.4" y="517.8" width="3.2" height="3" fill="#c2c3c6" transform="rotate(90 755 524)"/><rect x="753.4" y="517.8" width="3.2" height="3" fill="#c2c3c6" transform="rotate(135 755 524)"/><rect x="753.4" y="517.8" width="3.2" height="3" fill="#c2c3c6" transform="rotate(180 755 524)"/><rect x="753.4" y="517.8" width="3.2" height="3" fill="#c2c3c6" transform="rotate(225 755 524)"/><rect x="753.4" y="517.8" width="3.2" height="3" fill="#c2c3c6" transform="rotate(270 755 524)"/><rect x="753.4" y="517.8" width="3.2" height="3" fill="#c2c3c6" transform="rotate(315 755 524)"/><circle cx="755" cy="524" r="4.4" fill="#c2c3c6"/><circle cx="755" cy="524" r="2.5" fill="#27282c"/>
<rect x="51.5" y="436.5" width="658" height="70" fill="none" stroke="#3a3b3f" stroke-width="1"/>
<line x1="53" y1="471.5" x2="709" y2="471.5" stroke="#323337" stroke-width="1"/>
<g shape-rendering="crispEdges"><rect x="58" y="472" width="1" height="4" fill="#12ee12"/><rect x="65" y="472" width="1" height="6" fill="#12ee12"/><rect x="72" y="472" width="1" height="6" fill="#12ee12"/><rect x="79" y="472" width="1" height="3" fill="#12ee12"/><rect x="86" y="470" width="1" height="1" fill="#ff3333"/><rect x="93" y="467" width="1" height="5" fill="#ff3333"/><rect x="100" y="466" width="1" height="5" fill="#ff3333"/><rect x="114" y="472" width="1" height="3" fill="#12ee12"/><rect x="121" y="472" width="1" height="5" fill="#12ee12"/><rect x="128" y="472" width="1" height="3" fill="#12ee12"/><rect x="135" y="472" width="1" height="4" fill="#12ee12"/><rect x="142" y="472" width="1" height="8" fill="#12ee12"/><rect x="149" y="472" width="1" height="14" fill="#12ee12"/><rect x="156" y="472" width="1" height="21" fill="#12ee12"/><rect x="163" y="472" width="1" height="28" fill="#12ee12"/><rect x="170" y="472" width="1" height="30" fill="#12ee12"/><rect x="177" y="472" width="1" height="24" fill="#12ee12"/><rect x="184" y="472" width="1" height="13" fill="#12ee12"/><rect x="198" y="460" width="1" height="12" fill="#ff3333"/><rect x="205" y="454" width="1" height="18" fill="#ff3333"/><rect x="212" y="449" width="1" height="23" fill="#ff3333"/><rect x="219" y="442" width="1" height="30" fill="#ff3333"/><rect x="226" y="439" width="1" height="32" fill="#ff3333"/><rect x="233" y="440" width="1" height="31" fill="#ff3333"/><rect x="240" y="442" width="1" height="30" fill="#ff3333"/><rect x="247" y="447" width="1" height="24" fill="#ff3333"/><rect x="254" y="450" width="1" height="21" fill="#ff3333"/><rect x="261" y="458" width="1" height="14" fill="#ff3333"/><rect x="268" y="461" width="1" height="10" fill="#ff3333"/><rect x="275" y="462" width="1" height="10" fill="#ff3333"/><rect x="282" y="464" width="1" height="7" fill="#ff3333"/><rect x="289" y="453" width="1" height="19" fill="#ff3333"/><rect x="296" y="449" width="1" height="23" fill="#ff3333"/><rect x="303" y="451" width="1" height="21" fill="#ff3333"/><rect x="310" y="456" width="1" height="15" fill="#ff3333"/><rect x="317" y="460" width="1" height="11" fill="#ff3333"/><rect x="324" y="460" width="1" height="11" fill="#ff3333"/><rect x="331" y="471" width="1" height="1" fill="#ff3333"/><rect x="338" y="472" width="1" height="4" fill="#12ee12"/><rect x="345" y="472" width="1" height="6" fill="#12ee12"/><rect x="352" y="471" width="1" height="1" fill="#ff3333"/><rect x="359" y="472" width="1" height="1" fill="#12ee12"/><rect x="366" y="472" width="1" height="4" fill="#12ee12"/><rect x="373" y="472" width="1" height="5" fill="#12ee12"/><rect x="380" y="472" width="1" height="9" fill="#12ee12"/><rect x="387" y="472" width="1" height="10" fill="#12ee12"/><rect x="394" y="472" width="1" height="9" fill="#12ee12"/><rect x="401" y="472" width="1" height="6" fill="#12ee12"/><rect x="408" y="472" width="1" height="9" fill="#12ee12"/><rect x="415" y="472" width="1" height="14" fill="#12ee12"/><rect x="422" y="472" width="1" height="15" fill="#12ee12"/><rect x="429" y="472" width="1" height="18" fill="#12ee12"/><rect x="436" y="472" width="1" height="9" fill="#12ee12"/><rect x="443" y="472" width="1" height="2" fill="#12ee12"/><rect x="450" y="461" width="1" height="10" fill="#ff3333"/><rect x="457" y="457" width="1" height="15" fill="#ff3333"/><rect x="464" y="466" width="1" height="5" fill="#ff3333"/><rect x="471" y="468" width="1" height="4" fill="#ff3333"/><rect x="478" y="465" width="1" height="6" fill="#ff3333"/><rect x="485" y="467" width="1" height="5" fill="#ff3333"/><rect x="492" y="472" width="1" height="2" fill="#12ee12"/><rect x="499" y="472" width="1" height="8" fill="#12ee12"/><rect x="506" y="472" width="1" height="12" fill="#12ee12"/><rect x="513" y="472" width="1" height="13" fill="#12ee12"/><rect x="520" y="472" width="1" height="15" fill="#12ee12"/><rect x="527" y="472" width="1" height="12" fill="#12ee12"/><rect x="534" y="472" width="1" height="8" fill="#12ee12"/><rect x="541" y="472" width="1" height="8" fill="#12ee12"/><rect x="548" y="472" width="1" height="5" fill="#12ee12"/><rect x="555" y="472" width="1" height="4" fill="#12ee12"/><rect x="569" y="472" width="1" height="1" fill="#12ee12"/><rect x="576" y="472" width="1" height="1" fill="#12ee12"/><rect x="583" y="472" width="1" height="2" fill="#12ee12"/><rect x="590" y="472" width="1" height="3" fill="#12ee12"/><rect x="597" y="472" width="1" height="8" fill="#12ee12"/><rect x="604" y="472" width="1" height="9" fill="#12ee12"/><rect x="611" y="472" width="1" height="9" fill="#12ee12"/><rect x="618" y="472" width="1" height="3" fill="#12ee12"/><rect x="625" y="472" width="1" height="3" fill="#12ee12"/><rect x="632" y="467" width="1" height="4" fill="#ff3333"/><rect x="639" y="463" width="1" height="8" fill="#ff3333"/><rect x="646" y="463" width="1" height="9" fill="#ff3333"/><rect x="653" y="463" width="1" height="9" fill="#ff3333"/><rect x="660" y="462" width="1" height="9" fill="#ff3333"/><rect x="667" y="459" width="1" height="12" fill="#ff3333"/><rect x="674" y="456" width="1" height="16" fill="#ff3333"/><rect x="681" y="454" width="1" height="18" fill="#ff3333"/><rect x="688" y="452" width="1" height="19" fill="#ff3333"/><rect x="695" y="457" width="1" height="15" fill="#ff3333"/></g>
<polyline points="58.5,476.4 65.5,477.2 72.5,477.9 79.5,478.3 86.5,478.1 93.5,477.5 100.5,476.9 107.5,476.8 114.5,477.2 121.5,477.8 128.5,478.2 135.5,478.7 142.5,479.7 149.5,481.4 156.5,484.1 163.5,487.6 170.5,491.3 177.5,494.3 184.5,495.9 191.5,495.9 198.5,494.4 205.5,492.2 212.5,489.3 219.5,485.6 226.5,481.6 233.5,477.7 240.5,474.0 247.5,470.9 254.5,468.3 261.5,466.6 268.5,465.3 275.5,464.1 282.5,463.2 289.5,460.8 296.5,458.0 303.5,455.4 310.5,453.5 317.5,452.1 324.5,450.7 331.5,450.6 338.5,451.1 345.5,451.9 352.5,451.8 359.5,451.9 366.5,452.5 373.5,453.1 380.5,454.2 387.5,455.5 394.5,456.6 401.5,457.4 408.5,458.5 415.5,460.2 422.5,462.2 429.5,464.5 436.5,465.6 443.5,465.8 450.5,464.5 457.5,462.7 464.5,462.0 471.5,461.5 478.5,460.8 485.5,460.2 492.5,460.5 499.5,461.4 506.5,462.9 513.5,464.5 520.5,466.4 527.5,467.8 534.5,468.9 541.5,469.9 548.5,470.5 555.5,470.9 562.5,470.9 569.5,471.0 576.5,471.0 583.5,471.3 590.5,471.7 597.5,472.6 604.5,473.8 611.5,474.8 618.5,475.3 625.5,475.6 632.5,475.1 639.5,474.1 646.5,473.0 653.5,471.9 660.5,470.8 667.5,469.2 674.5,467.2 681.5,465.0 688.5,462.6 695.5,460.8" fill="none" stroke="#e6e600" stroke-width="1.15" stroke-linejoin="round"/>
<polyline points="58.5,478.6 65.5,480.1 72.5,480.9 79.5,479.6 86.5,477.4 93.5,475.0 100.5,474.3 107.5,476.7 114.5,478.7 121.5,480.1 128.5,479.8 135.5,480.7 142.5,483.8 149.5,488.4 156.5,494.5 163.5,501.8 170.5,506.2 177.5,506.1 184.5,502.3 191.5,495.9 198.5,488.6 205.5,483.2 212.5,478.0 219.5,470.7 226.5,465.4 233.5,462.1 240.5,459.2 247.5,458.7 254.5,457.7 261.5,459.8 268.5,460.3 275.5,459.1 282.5,459.6 289.5,451.5 296.5,446.5 303.5,445.1 310.5,445.8 317.5,446.4 324.5,445.1 331.5,450.3 338.5,452.9 345.5,455.0 352.5,451.5 359.5,452.5 366.5,454.7 373.5,455.6 380.5,458.6 387.5,460.8 394.5,461.0 401.5,460.3 408.5,462.9 415.5,467.4 422.5,469.9 429.5,473.6 436.5,469.9 443.5,466.9 450.5,459.3 457.5,455.4 464.5,459.3 471.5,459.6 478.5,457.7 485.5,457.8 492.5,461.6 499.5,465.2 506.5,468.6 513.5,471.2 520.5,473.8 527.5,473.6 534.5,473.0 541.5,474.1 548.5,472.8 555.5,472.7 562.5,470.7 569.5,471.3 576.5,471.4 583.5,472.5 590.5,473.0 597.5,476.5 604.5,478.3 611.5,479.2 618.5,476.9 625.5,477.2 632.5,473.1 639.5,469.9 646.5,468.6 653.5,467.5 660.5,466.2 667.5,462.9 674.5,459.4 681.5,456.2 688.5,453.0 695.5,453.5" fill="none" stroke="#e8e8e8" stroke-width="1.15" stroke-linejoin="round"/>
<path d="M176,432.0 L179.2,428.0 L177.2,428.0 L177.2,421.5 L174.8,421.5 L174.8,428.0 L172.8,428.0 Z" fill="#12ee12"/>
<path d="M250.5,432.0 L253.7,428.0 L251.7,428.0 L251.7,421.5 L249.3,421.5 L249.3,428.0 L247.3,428.0 Z" fill="#12ee12"/>
<path d="M325,421.0 L328.2,425.0 L326.2,425.0 L326.2,431.5 L323.8,431.5 L323.8,425.0 L321.8,425.0 Z" fill="#ff2a2a"/>
<rect x="51.5" y="534.5" width="658" height="57" fill="none" stroke="#3a3b3f" stroke-width="1"/>
<polyline points="58.5,571.3 65.5,573.3 72.5,574.4 79.5,573.9 86.5,572.1 93.5,569.7 100.5,567.8 107.5,568.2 114.5,569.7 121.5,571.4 128.5,572.3 135.5,573.4 142.5,575.4 149.5,577.5 156.5,579.4 163.5,581.1 170.5,581.8 177.5,580.7 184.5,577.8 191.5,573.0 198.5,567.8 205.5,563.2 212.5,559.1 219.5,555.6 226.5,552.9 233.5,551.1 240.5,550.0 247.5,550.3 254.5,551.2 261.5,555.1 268.5,558.2 275.5,559.4 282.5,560.5 289.5,559.5 296.5,558.4 303.5,558.0 310.5,558.6 317.5,559.4 324.5,559.6 331.5,562.3 338.5,565.2 345.5,567.8 352.5,569.0 359.5,570.4 366.5,572.1 373.5,573.4 380.5,574.9 387.5,576.3 394.5,577.1 401.5,577.4 408.5,578.3 415.5,579.5 422.5,579.7 429.5,580.2 436.5,577.0 443.5,573.5 450.5,569.5 457.5,566.2 464.5,565.9 471.5,566.0 478.5,565.5 485.5,565.2 492.5,566.6 499.5,569.0 506.5,571.7 513.5,574.0 520.5,575.7 527.5,575.8 534.5,574.9 541.5,574.3 548.5,572.1 555.5,570.1 562.5,567.1 569.5,565.4 576.5,564.3 583.5,564.1 590.5,564.3 597.5,566.5 604.5,568.8 611.5,570.6 618.5,569.8 625.5,569.4 632.5,566.5 639.5,563.9 646.5,562.5 653.5,561.5 660.5,560.7 667.5,558.8 674.5,557.4 681.5,556.2 688.5,554.8 695.5,555.4" fill="none" stroke="#1ec8e6" stroke-width="1.15" stroke-linejoin="round"/>
<polyline points="58.5,577.5 65.5,577.2 72.5,576.6 79.5,573.0 86.5,568.6 93.5,564.7 100.5,564.2 107.5,569.0 114.5,572.5 121.5,574.9 128.5,574.0 135.5,575.7 142.5,579.4 149.5,581.7 156.5,583.3 163.5,584.5 170.5,583.2 177.5,578.6 184.5,571.9 191.5,563.5 198.5,557.4 205.5,553.9 212.5,551.1 219.5,548.7 226.5,547.4 233.5,547.4 240.5,547.8 247.5,551.0 254.5,553.0 261.5,562.8 268.5,564.3 275.5,561.9 282.5,562.8 289.5,557.4 296.5,556.1 303.5,557.4 310.5,559.7 317.5,561.1 324.5,560.0 331.5,567.6 338.5,570.9 345.5,573.0 352.5,571.5 359.5,573.3 366.5,575.4 373.5,576.0 380.5,578.0 387.5,579.1 394.5,578.6 401.5,577.9 408.5,580.3 415.5,581.7 422.5,580.2 429.5,581.4 436.5,570.4 443.5,566.6 450.5,561.4 457.5,559.8 464.5,565.2 471.5,566.1 478.5,564.4 485.5,564.7 492.5,569.4 499.5,573.8 506.5,577.1 513.5,578.7 520.5,579.0 527.5,575.9 534.5,573.3 541.5,573.1 548.5,567.6 555.5,566.1 562.5,561.1 569.5,562.1 576.5,562.0 583.5,563.9 590.5,564.5 597.5,571.0 604.5,573.4 611.5,574.2 618.5,568.3 625.5,568.6 632.5,560.7 639.5,558.8 646.5,559.5 653.5,559.7 660.5,559.1 667.5,555.1 674.5,554.5 681.5,553.7 688.5,552.2 695.5,556.7" fill="none" stroke="#e6e600" stroke-width="1.15" stroke-linejoin="round"/>
<polyline points="58.5,589.8 65.5,585.2 72.5,581.1 79.5,571.1 86.5,561.4 93.5,554.9 100.5,556.9 107.5,570.6 114.5,578.3 121.5,581.9 128.5,577.5 135.5,580.2 142.5,587.3 149.5,590.1 156.5,591.0 163.5,591.3 170.5,585.9 177.5,574.4 184.5,560.1 191.5,544.4 198.5,536.5 205.5,535.2 212.5,534.9 219.5,534.8 226.5,536.4 233.5,540.0 240.5,543.6 247.5,552.4 254.5,556.6 261.5,578.3 268.5,576.6 275.5,566.8 282.5,567.4 289.5,553.2 296.5,551.6 303.5,556.1 310.5,562.0 317.5,564.4 324.5,560.7 331.5,578.2 338.5,582.5 345.5,583.4 352.5,576.5 359.5,578.9 366.5,582.0 373.5,581.1 380.5,584.2 387.5,584.8 394.5,581.7 401.5,579.1 408.5,584.2 415.5,586.2 422.5,581.1 429.5,583.6 436.5,557.2 443.5,552.7 450.5,545.3 457.5,547.0 464.5,563.9 471.5,566.2 478.5,562.4 485.5,563.8 492.5,574.9 499.5,583.5 506.5,587.8 513.5,588.0 520.5,585.7 527.5,576.2 534.5,570.1 541.5,570.7 548.5,558.7 555.5,558.1 562.5,549.1 569.5,555.5 576.5,557.3 583.5,563.3 590.5,565.0 597.5,580.0 604.5,582.7 611.5,581.3 618.5,565.1 625.5,566.9 632.5,549.1 639.5,548.5 646.5,553.6 653.5,555.9 660.5,555.8 667.5,547.5 674.5,548.7 681.5,548.8 688.5,546.8 695.5,559.1" fill="none" stroke="#dd70dd" stroke-width="1.15" stroke-linejoin="round"/>
<path d="M118,530.0 L121.2,526.0 L119.2,526.0 L119.2,519.5 L116.8,519.5 L116.8,526.0 L114.8,526.0 Z" fill="#12ee12"/>
<path d="M177,530.0 L180.2,526.0 L178.2,526.0 L178.2,519.5 L175.8,519.5 L175.8,526.0 L173.8,526.0 Z" fill="#12ee12"/>
<path d="M231.5,530.0 L234.7,526.0 L232.7,526.0 L232.7,519.5 L230.3,519.5 L230.3,526.0 L228.3,526.0 Z" fill="#12ee12"/>
<rect x="58" y="592" width="1" height="5" fill="#d0d0d0" />
<rect x="184" y="592" width="1" height="5" fill="#d0d0d0" />
<rect x="338" y="592" width="1" height="5" fill="#d0d0d0" />
<rect x="478" y="592" width="1" height="5" fill="#d0d0d0" />
<rect x="590" y="592" width="1" height="5" fill="#d0d0d0" />
<polygon points="52.25,622.6999999999999 58.75,622.6999999999999 55.5,626.9" fill="#b0b0b2"/>
<rect x="67" y="616" width="62" height="18" fill="#3f5474" />
<rect x="67" y="616" width="62" height="1" fill="#4d6488" />
<rect x="67" y="616" width="1" height="18" fill="#47608a" />
<rect x="132" y="616" width="62" height="18" fill="#2f3034" />
<rect x="132" y="616" width="62" height="1" fill="#3a3b3f" />
<rect x="132" y="616" width="1" height="18" fill="#36373b" />
<rect x="197" y="616" width="62" height="18" fill="#3f5474" />
<rect x="197" y="616" width="62" height="1" fill="#4d6488" />
<rect x="197" y="616" width="1" height="18" fill="#47608a" />
<rect x="262" y="616" width="62" height="18" fill="#3f5474" />
<rect x="262" y="616" width="62" height="1" fill="#4d6488" />
<rect x="262" y="616" width="1" height="18" fill="#47608a" />
<rect x="327" y="616" width="62" height="18" fill="#3f5474" />
<rect x="327" y="616" width="62" height="1" fill="#4d6488" />
<rect x="327" y="616" width="1" height="18" fill="#47608a" />
<rect x="392" y="616" width="62" height="18" fill="#2f3034" />
<rect x="392" y="616" width="62" height="1" fill="#3a3b3f" />
<rect x="392" y="616" width="1" height="18" fill="#36373b" />
<rect x="457" y="616" width="62" height="18" fill="#2f3034" />
<rect x="457" y="616" width="62" height="1" fill="#3a3b3f" />
<rect x="457" y="616" width="1" height="18" fill="#36373b" />
<rect x="522" y="616" width="62" height="18" fill="#2f3034" />
<rect x="522" y="616" width="62" height="1" fill="#3a3b3f" />
<rect x="522" y="616" width="1" height="18" fill="#36373b" />
<rect x="587" y="616" width="62" height="18" fill="#2f3034" />
<rect x="587" y="616" width="62" height="1" fill="#3a3b3f" />
<rect x="587" y="616" width="1" height="18" fill="#36373b" />
<rect x="652" y="616" width="62" height="18" fill="#2f3034" />
<rect x="652" y="616" width="62" height="1" fill="#3a3b3f" />
<rect x="652" y="616" width="1" height="18" fill="#36373b" />
<rect x="718" y="616" width="28" height="18" fill="#2f3034" />
<rect x="724.5" y="623.5" width="3" height="3" fill="#d0d0d2" />
<rect x="730.5" y="623.5" width="3" height="3" fill="#d0d0d2" />
<rect x="736.5" y="623.5" width="3" height="3" fill="#d0d0d2" />
<rect x="0" y="638" width="766" height="1" fill="#3c3d41" />
<rect x="0" y="640" width="766" height="23" fill="#2d2e32" />
<rect x="0" y="640" width="766" height="1" fill="#37383c" />
<rect x="15" y="640" width="1" height="23" fill="#1e1f23" />
<rect x="54" y="640" width="1" height="23" fill="#1e1f23" />
<rect x="16" y="640" width="38" height="22" fill="#3b3c40" />
<rect x="16" y="640" width="38" height="1" fill="#46474b" />
<rect x="93" y="640" width="1" height="23" fill="#1e1f23" />
<rect x="238" y="640" width="1" height="23" fill="#1e1f23" />
<rect x="311" y="640" width="1" height="23" fill="#1e1f23" />
<rect x="389" y="640" width="1" height="23" fill="#1e1f23" />
<rect x="441" y="640" width="1" height="23" fill="#1e1f23" />
<rect x="-3" y="645" width="14" height="12" fill="none" stroke="#c0c1c4" stroke-width="2"/>
<rect x="-2" y="646" width="12" height="4" fill="#c0c1c4" />
<circle cx="924.5" cy="674.5" r="4.6" fill="none" stroke="#c4c4c6" stroke-width="1.5"/><line x1="927.8" y1="677.8" x2="931" y2="681" stroke="#c4c4c6" stroke-width="1.7"/>
<g fill="none" stroke="#d0d0d2" stroke-width="1.7"><path d="M940.5,675 Q949,667.5 957.5,675"/><path d="M943.5,678 Q949,673 954.5,678"/></g><circle cx="949" cy="680.5" r="1.8" fill="#d0d0d2"/>
<rect x="768.5" y="33.5" width="251" height="53" fill="#1e1f23" stroke="#3a3b3f" stroke-width="1"/>
<rect x="768.5" y="88.5" width="251" height="223" fill="#1e1f23" stroke="#3a3b3f" stroke-width="1"/>
<line x1="769" y1="109.5" x2="1019" y2="109.5" stroke="#3a3b3f" stroke-width="1"/>
<line x1="789.5" y1="110" x2="789.5" y2="311" stroke="#3a3b3f" stroke-width="1"/>
<line x1="769" y1="210.5" x2="1019" y2="210.5" stroke="#3a3b3f" stroke-width="1"/>
<rect x="768.5" y="313.5" width="251" height="221" fill="#1e1f23" stroke="#3a3b3f" stroke-width="1"/>
<rect x="768.5" y="536.5" width="251" height="102" fill="#1e1f23" stroke="#3a3b3f" stroke-width="1"/>
<rect x="962" y="39" width="53" height="20" fill="#37383c" rx="2"/>
<path d="M827.4,65 L832.6,65 L832.6,72 L837.6,72 L830,80.4 L822.4,72 L827.4,72 Z" fill="#12ee12"/>
<rect x="998" y="67.5" width="2.6" height="2.6" fill="#c8c8ca" />
<rect x="1002" y="67.5" width="10.5" height="2.6" fill="#c8c8ca" />
<rect x="998" y="72.5" width="2.6" height="2.6" fill="#c8c8ca" />
<rect x="1002" y="72.5" width="10.5" height="2.6" fill="#c8c8ca" />
<rect x="998" y="77.5" width="2.6" height="2.6" fill="#c8c8ca" />
<rect x="1002" y="77.5" width="10.5" height="2.6" fill="#c8c8ca" />
<rect x="998.6" y="95.4" width="7.8" height="8" fill="none" stroke="#c4c6ca" stroke-width="1.3" rx="1"/><rect x="995" y="92.3" width="10.5" height="10.3" fill="#1e1f23"/><rect x="995.8" y="93.1" width="8.9" height="8.6" fill="#c4c6ca" rx="1.2"/>
<path d="M958.6,545.3 L961.4,545.3 L961.4,550.3 L965,550.3 L960,556.4 L955,550.3 L958.6,550.3 Z" fill="#12ee12"/>
<path d="M958.6,570.3 L961.4,570.3 L961.4,575.3 L965,575.3 L960,581.4 L955,575.3 L958.6,575.3 Z" fill="#12ee12"/>
<path d="M958.6,595.3 L961.4,595.3 L961.4,600.3 L965,600.3 L960,606.4 L955,600.3 L958.6,600.3 Z" fill="#12ee12"/>
<rect x="768" y="640" width="252" height="23" fill="#2b2c30" />
<rect x="768" y="640" width="38" height="23" fill="#3b3c40" />
<rect x="768" y="640" width="38" height="1" fill="#48494d" />
<rect x="807" y="640" width="38" height="23" fill="#2f3034" />
<rect x="807" y="640" width="38" height="1" fill="#3a3b3f" />
<rect x="846" y="640" width="38" height="23" fill="#2f3034" />
<rect x="846" y="640" width="38" height="1" fill="#3a3b3f" />
<rect x="885" y="640" width="38" height="23" fill="#2f3034" />
<rect x="885" y="640" width="38" height="1" fill="#3a3b3f" />
<rect x="924" y="640" width="39" height="23" fill="#2f3034" />
<rect x="924" y="640" width="39" height="1" fill="#3a3b3f" />
<rect x="969.5" y="650.3" width="14" height="2" fill="#c8c8ca" />
<rect x="975.5" y="644.3" width="2" height="14" fill="#c8c8ca" />
</svg>
<div class="t" style="left:-8.5px;top:9.0px;font-size:14px;line-height:21px;color:#c6c6c8;font-weight:normal;transform:scale(1.02,0.87);transform-origin:left center;">球</div>
<div class="t" style="left:37.5px;top:9.0px;font-size:14px;line-height:21px;color:#c6c6c8;font-weight:normal;transform:scale(1.02,0.87);transform-origin:left center;">期货</div>
<div class="t" style="left:97.5px;top:9.0px;font-size:14px;line-height:21px;color:#c6c6c8;font-weight:normal;transform:scale(1.02,0.87);transform-origin:left center;">债券</div>
<div class="t" style="left:157.5px;top:9.0px;font-size:14px;line-height:21px;color:#c6c6c8;font-weight:normal;transform:scale(1.02,0.87);transform-origin:left center;">选股</div>
<div class="t" style="left:217.5px;top:9.0px;font-size:14px;line-height:21px;color:#c6c6c8;font-weight:normal;transform:scale(1.02,0.87);transform-origin:left center;">发现</div>
<div class="t" style="left:277.5px;top:9.0px;font-size:14px;line-height:21px;color:#c6c6c8;font-weight:normal;transform:scale(1.02,0.87);transform-origin:left center;">资讯</div>
<div class="t" style="left:337.5px;top:9.0px;font-size:14px;line-height:21px;color:#c6c6c8;font-weight:normal;transform:scale(1.02,0.87);transform-origin:left center;">交易</div>
<div class="t" style="left:852px;top:9.0px;font-size:14px;line-height:21px;color:#c6c6c8;font-weight:normal;transform:scale(1.02,0.87);transform-origin:left center;">反馈</div>
<div class="t" style="left:19.5px;top:35.8px;font-size:14px;line-height:21px;color:#c6c6c8;font-weight:normal;transform:scale(1.02,0.87);transform-origin:left center;">分时</div>
<div class="t" style="left:62px;top:35.8px;font-size:14px;line-height:21px;color:#f4f4f4;font-weight:normal;transform:scale(1.02,0.87);transform-origin:left center;">日线</div>
<div class="t" style="left:102px;top:35.8px;font-size:14px;line-height:21px;color:#c6c6c8;font-weight:normal;transform:scale(1.02,0.87);transform-origin:left center;">周线</div>
<div class="t" style="left:192.5px;top:35.8px;font-size:14px;line-height:21px;color:#c6c6c8;font-weight:normal;transform:scale(1.02,0.87);transform-origin:left center;">多周期图</div>
<div class="t" style="left:276.5px;top:35.8px;font-size:14px;line-height:21px;color:#c6c6c8;font-weight:normal;transform:scale(1.02,0.87);transform-origin:left center;">个股资料</div>
<div class="t" style="left:345px;top:35.8px;font-size:14px;line-height:21px;color:#c6c6c8;font-weight:normal;transform:scale(1.02,0.87);transform-origin:left center;">诊股</div>
<div class="t" style="left:625px;top:35.5px;font-size:14px;line-height:21px;color:#c6c6c8;font-weight:normal;transform:scale(1.02,0.87);transform-origin:left center;">画线</div>
<div class="t" style="left:679.5px;top:35.5px;font-size:14px;line-height:21px;color:#c6c6c8;font-weight:normal;transform:scale(1.02,0.87);transform-origin:left center;">工具</div>
<div class="t" style="left:3px;top:59.0px;font-size:12px;line-height:18px;color:#ecec84;font-weight:normal;transform:scale(1.02,0.87);transform-origin:left center;">日线</div>
<div class="t" style="left:38px;top:59.0px;font-size:12px;line-height:18px;color:#ecec84;font-weight:normal;transform:scale(1.02,0.87);transform-origin:left center;">宇信科技</div>
<div class="t" style="left:104.5px;top:57.5px;font-size:13px;line-height:19px;color:#ecec84;font-weight:normal;">MA</div>
<div class="t" style="left:155.5px;top:58.0px;font-size:12.4px;line-height:18px;color:#e6e6e6;font-weight:normal;">MA5:19.78</div>
<div class="t" style="left:236.5px;top:58.0px;font-size:12.4px;line-height:18px;color:#e6e600;font-weight:normal;">MA10:19.42</div>
<div class="t" style="left:324px;top:58.0px;font-size:12.4px;line-height:18px;color:#e070e0;font-weight:normal;">MA20:18.92</div>
<div class="t" style="left:412.5px;top:58.0px;font-size:12.4px;line-height:18px;color:#10d810;font-weight:normal;">MA30:18.76</div>
<div class="t" style="left:500.5px;top:58.0px;font-size:12.4px;line-height:18px;color:#14d2f0;font-weight:normal;">MA60:18.81</div>
<div class="t" style="right:972px;top:86.5px;font-size:12.5px;line-height:18px;color:#ff3434;font-weight:normal;">22.00</div>
<div class="t" style="left:714px;top:86.5px;font-size:12.5px;line-height:18px;color:#ff3434;font-weight:normal;">22.00</div>
<div class="t" style="right:972px;top:112.5px;font-size:12.5px;line-height:18px;color:#ff3434;font-weight:normal;">21.00</div>
<div class="t" style="left:714px;top:112.5px;font-size:12.5px;line-height:18px;color:#ff3434;font-weight:normal;">21.00</div>
<div class="t" style="right:972px;top:139.5px;font-size:12.5px;line-height:18px;color:#ff3434;font-weight:normal;">20.00</div>
<div class="t" style="left:714px;top:139.5px;font-size:12.5px;line-height:18px;color:#ff3434;font-weight:normal;">20.00</div>
<div class="t" style="right:972px;top:165.5px;font-size:12.5px;line-height:18px;color:#ff3434;font-weight:normal;">19.00</div>
<div class="t" style="left:714px;top:165.5px;font-size:12.5px;line-height:18px;color:#ff3434;font-weight:normal;">19.00</div>
<div class="t" style="right:972px;top:192.5px;font-size:12.5px;line-height:18px;color:#ff3434;font-weight:normal;">18.00</div>
<div class="t" style="left:714px;top:192.5px;font-size:12.5px;line-height:18px;color:#ff3434;font-weight:normal;">18.00</div>
<div class="t" style="right:972px;top:219.5px;font-size:12.5px;line-height:18px;color:#ff3434;font-weight:normal;">17.00</div>
<div class="t" style="left:714px;top:219.5px;font-size:12.5px;line-height:18px;color:#ff3434;font-weight:normal;">17.00</div>
<div class="t" style="right:972px;top:245.5px;font-size:12.5px;line-height:18px;color:#ff3434;font-weight:normal;">16.00</div>
<div class="t" style="left:714px;top:245.5px;font-size:12.5px;line-height:18px;color:#ff3434;font-weight:normal;">16.00</div>
<div class="t" style="right:972px;top:272.5px;font-size:12.5px;line-height:18px;color:#ff3434;font-weight:normal;">15.00</div>
<div class="t" style="left:714px;top:272.5px;font-size:12.5px;line-height:18px;color:#ff3434;font-weight:normal;">15.00</div>
<div class="t" style="right:972px;top:298.5px;font-size:12.5px;line-height:18px;color:#ff3434;font-weight:normal;">14.00</div>
<div class="t" style="left:714px;top:298.5px;font-size:12.5px;line-height:18px;color:#ff3434;font-weight:normal;">14.00</div>
<div class="t" style="left:366px;top:83.0px;font-size:12.5px;line-height:18px;color:#f4f4f4;font-weight:normal;">22.14</div>
<div class="t" style="left:352.6px;top:82.8px;font-size:12.5px;line-height:18px;color:#f4f4f4;font-weight:normal;font-family:Noto Sans CJK SC,sans-serif;">←</div>
<div class="t" style="left:184px;top:276.5px;font-size:12.5px;line-height:18px;color:#f4f4f4;font-weight:normal;">14.87</div>
<div class="t" style="left:170.6px;top:276.3px;font-size:12.5px;line-height:18px;color:#f4f4f4;font-weight:normal;font-family:Noto Sans CJK SC,sans-serif;">←</div>
<div class="t" style="left:158.5px;top:289.0px;font-size:14px;line-height:21px;color:#52b9cf;font-weight:normal;-webkit-text-stroke:0.7px currentColor;">L</div>
<div class="t" style="left:662.5px;top:289.0px;font-size:14px;line-height:21px;color:#52b9cf;font-weight:normal;-webkit-text-stroke:0.7px currentColor;">L</div>
<div class="t" style="left:577px;top:292.3px;font-size:13px;line-height:19px;color:#ffffff;font-weight:normal;transform:scale(1.02,0.87);transform-origin:left center;">财</div>
<div class="t" style="left:699.5px;top:132.5px;font-size:12.5px;line-height:18px;color:#f4f4f4;font-weight:normal;">1</div>
<div class="t" style="right:972px;top:337.5px;font-size:12.5px;line-height:18px;color:#c8c8ca;font-weight:normal;">39.39</div>
<div class="t" style="right:972px;top:364.5px;font-size:12.5px;line-height:18px;color:#c8c8ca;font-weight:normal;">19.69</div>
<div class="t" style="right:972px;top:391.5px;font-size:13px;line-height:19px;color:#c8c8ca;font-weight:normal;transform:scale(1.02,0.87);transform-origin:right center;">万</div>
<div class="t" style="left:714px;top:337.5px;font-size:12.5px;line-height:18px;color:#c8c8ca;font-weight:normal;">39.39</div>
<div class="t" style="left:714px;top:364.5px;font-size:12.5px;line-height:18px;color:#c8c8ca;font-weight:normal;">19.69</div>
<div class="t" style="left:714px;top:391.5px;font-size:13px;line-height:19px;color:#c8c8ca;font-weight:normal;transform:scale(1.02,0.87);transform-origin:left center;">万</div>
<div class="t" style="left:5.5px;top:321.0px;font-size:12px;line-height:18px;color:#e6e6aa;font-weight:normal;transform:scale(1.02,0.87);transform-origin:left center;">成交量</div>
<div class="t" style="left:50.5px;top:320.0px;font-size:12px;line-height:18px;color:#12ee12;font-weight:normal;">总量:13.94万</div>
<div class="t" style="left:137px;top:320.0px;font-size:12px;line-height:18px;color:#e6e600;font-weight:normal;">MA5:15.08万</div>
<div class="t" style="left:225.5px;top:320.0px;font-size:12.3px;line-height:18px;color:#e6e6e6;font-weight:normal;">MA10:12.62万</div>
<div class="t" style="right:972px;top:436.0px;font-size:12.5px;line-height:18px;color:#ff3434;font-weight:normal;">0.599</div>
<div class="t" style="right:972px;top:462.5px;font-size:12.5px;line-height:18px;color:#f0f0f0;font-weight:normal;">0.000</div>
<div class="t" style="right:972px;top:489.0px;font-size:12.5px;line-height:18px;color:#12ee12;font-weight:normal;">-0.599</div>
<div class="t" style="left:714px;top:436.0px;font-size:12.5px;line-height:18px;color:#ff3434;font-weight:normal;">0.599</div>
<div class="t" style="left:714px;top:462.5px;font-size:12.5px;line-height:18px;color:#f0f0f0;font-weight:normal;">0.000</div>
<div class="t" style="left:714px;top:489.0px;font-size:12.5px;line-height:18px;color:#12ee12;font-weight:normal;">-0.599</div>
<div class="t" style="left:6.5px;top:417.5px;font-size:12px;line-height:18px;color:#e6e6aa;font-weight:normal;">MACD(12,26,9)</div>
<div class="t" style="left:100.5px;top:417.5px;font-size:12px;line-height:18px;color:#ff3434;font-weight:normal;">MACD:0.253</div>
<div class="t" style="left:187.5px;top:418.0px;font-size:11.6px;line-height:17px;color:#e8e8e8;font-weight:normal;">DIFF:0.314</div>
<div class="t" style="left:262.5px;top:417.5px;font-size:12px;line-height:18px;color:#e6e600;font-weight:normal;">DEA:0.188</div>
<div class="t" style="right:972px;top:533.5px;font-size:12.5px;line-height:18px;color:#ff3434;font-weight:normal;">114.85</div>
<div class="t" style="right:972px;top:574.0px;font-size:12.5px;line-height:18px;color:#12ee12;font-weight:normal;">-7.82</div>
<div class="t" style="left:714px;top:533.5px;font-size:12.5px;line-height:18px;color:#ff3434;font-weight:normal;">114.85</div>
<div class="t" style="left:714px;top:574.0px;font-size:12.5px;line-height:18px;color:#12ee12;font-weight:normal;">-7.82</div>
<div class="t" style="left:6.5px;top:515.5px;font-size:12px;line-height:18px;color:#e6e6aa;font-weight:normal;">KDJ(9,3,3)</div>
<div class="t" style="left:71.5px;top:515.5px;font-size:12px;line-height:18px;color:#e6e600;font-weight:normal;">K:67.76</div>
<div class="t" style="left:129.5px;top:515.5px;font-size:12px;line-height:18px;color:#1ec8e6;font-weight:normal;">D:70.30</div>
<div class="t" style="left:188.5px;top:515.5px;font-size:12px;line-height:18px;color:#dd70dd;font-weight:normal;">J:62.67</div>
<div class="t" style="left:-141.5px;width:400px;text-align:center;top:595.5px;font-size:12.5px;line-height:18px;color:#f0f0f0;font-weight:normal;">2021-07</div>
<div class="t" style="left:-15.5px;width:400px;text-align:center;top:595.5px;font-size:12.5px;line-height:18px;color:#f0f0f0;font-weight:normal;">08</div>
<div class="t" style="left:138.5px;width:400px;text-align:center;top:595.5px;font-size:12.5px;line-height:18px;color:#f0f0f0;font-weight:normal;">09</div>
<div class="t" style="left:278.5px;width:400px;text-align:center;top:595.5px;font-size:12.5px;line-height:18px;color:#f0f0f0;font-weight:normal;">10</div>
<div class="t" style="left:390.5px;width:400px;text-align:center;top:595.5px;font-size:12.5px;line-height:18px;color:#f0f0f0;font-weight:normal;">11</div>
<div class="t" style="left:3px;top:617.0px;font-size:12px;line-height:18px;color:#c0c0c2;font-weight:normal;transform:scale(1.02,0.87);transform-origin:left center;">前复权</div>
<div class="t" style="left:-102px;width:400px;text-align:center;top:617.8px;font-size:12.5px;line-height:18px;color:#e6e8ee;font-weight:normal;transform:scale(1.02,0.87);transform-origin:center center;">成交量</div>
<div class="t" style="left:-37px;width:400px;text-align:center;top:617.8px;font-size:12.5px;line-height:18px;color:#c0c0c2;font-weight:normal;transform:scale(1.02,0.87);transform-origin:center center;">成交额</div>
<div class="t" style="left:28px;width:400px;text-align:center;top:616.8px;font-size:12px;line-height:18px;color:#e6e8ee;font-weight:normal;">MA</div>
<div class="t" style="left:93px;width:400px;text-align:center;top:616.8px;font-size:12px;line-height:18px;color:#e6e8ee;font-weight:normal;">MACD</div>
<div class="t" style="left:158px;width:400px;text-align:center;top:616.8px;font-size:12px;line-height:18px;color:#e6e8ee;font-weight:normal;">KDJ</div>
<div class="t" style="left:223px;width:400px;text-align:center;top:616.8px;font-size:12px;line-height:18px;color:#c0c0c2;font-weight:normal;">BOLL</div>
<div class="t" style="left:288px;width:400px;text-align:center;top:617.8px;font-size:12.5px;line-height:18px;color:#c0c0c2;font-weight:normal;transform:scale(1.02,0.87);transform-origin:center center;">牛熊线</div>
<div class="t" style="left:353px;width:400px;text-align:center;top:617.8px;font-size:12.5px;line-height:18px;color:#c0c0c2;font-weight:normal;transform:scale(1.02,0.87);transform-origin:center center;">神奇九转</div>
<div class="t" style="left:418px;width:400px;text-align:center;top:617.8px;font-size:12.5px;line-height:18px;color:#c0c0c2;font-weight:normal;transform:scale(1.02,0.87);transform-origin:center center;">多空线</div>
<div class="t" style="left:483px;width:400px;text-align:center;top:617.8px;font-size:12.5px;line-height:18px;color:#c0c0c2;font-weight:normal;transform:scale(1.02,0.87);transform-origin:center center;">主力</div>
<div class="t" style="left:-165.0px;width:400px;text-align:center;top:643.0px;font-size:14px;line-height:21px;color:#f2f2f2;font-weight:normal;transform:scale(1.02,0.87);transform-origin:center center;">资讯</div>
<div class="t" style="left:-125.5px;width:400px;text-align:center;top:643.0px;font-size:14px;line-height:21px;color:#c6c6c8;font-weight:normal;transform:scale(1.02,0.87);transform-origin:center center;">研报</div>
<div class="t" style="left:-33.5px;width:400px;text-align:center;top:642.0px;font-size:14px;line-height:21px;color:#c6c6c8;font-weight:normal;">行业资讯[计算机应用]</div>
<div class="t" style="left:75.5px;width:400px;text-align:center;top:643.0px;font-size:14px;line-height:21px;color:#c6c6c8;font-weight:normal;transform:scale(1.02,0.87);transform-origin:center center;">关联报价</div>
<div class="t" style="left:151.0px;width:400px;text-align:center;top:642.0px;font-size:14px;line-height:21px;color:#c6c6c8;font-weight:normal;">AI相似个股</div>
<div class="t" style="left:216.0px;width:400px;text-align:center;top:643.0px;font-size:14px;line-height:21px;color:#c6c6c8;font-weight:normal;transform:scale(1.02,0.87);transform-origin:center center;">论股堂</div>
<div class="t" style="left:-0.5px;top:667.0px;font-size:14px;line-height:21px;color:#12e0f0;font-weight:normal;">1.23亿</div>
<div class="t" style="left:77px;top:668.0px;font-size:14px;line-height:21px;color:#e8e06a;font-weight:normal;transform:scale(1.02,0.87);transform-origin:left center;">深指</div>
<div class="t" style="left:118px;top:667.0px;font-size:14px;line-height:21px;color:#ff3434;font-weight:normal;">14960.66</div>
<div class="t" style="left:185px;top:667.0px;font-size:14px;line-height:21px;color:#ff3434;font-weight:normal;">+208.17</div>
<div class="t" style="left:247px;top:667.0px;font-size:14px;line-height:21px;color:#ff3434;font-weight:normal;">+1.41%</div>
<div class="t" style="left:302.5px;top:667.0px;font-size:14px;line-height:21px;color:#12e0f0;font-weight:normal;">7457.94亿</div>
<div class="t" style="left:405.5px;top:668.0px;font-size:14px;line-height:21px;color:#e8e06a;font-weight:normal;transform:scale(1.02,0.87);transform-origin:left center;">创指</div>
<div class="t" style="left:446px;top:667.0px;font-size:14px;line-height:21px;color:#ff3434;font-weight:normal;">3505.73</div>
<div class="t" style="left:502.5px;top:667.0px;font-size:14px;line-height:21px;color:#ff3434;font-weight:normal;">+86.77</div>
<div class="t" style="left:558.5px;top:667.0px;font-size:14px;line-height:21px;color:#ff3434;font-weight:normal;">+2.54%</div>
<div class="t" style="left:614.5px;top:667.0px;font-size:14px;line-height:21px;color:#12e0f0;font-weight:normal;">3182.42亿</div>
<div class="t" style="left:964.5px;top:666.0px;font-size:14px;line-height:21px;color:#d4d4d6;font-weight:normal;">18:39:39</div>
<div class="t" style="left:774.5px;top:37.3px;font-size:17px;line-height:25px;color:#c6c6c8;font-weight:bold;">300674</div>
<div class="t" style="left:846px;top:38.7px;font-size:16px;line-height:24px;color:#f0ec8a;font-weight:bold;transform:scale(1.02,0.87);transform-origin:left center;">宇信科技</div>
<div class="t" style="left:788.5px;width:400px;text-align:center;top:41.0px;font-size:14px;line-height:21px;color:#c8c8ca;font-weight:normal;transform:scale(1.02,0.87);transform-origin:center center;">加自选</div>
<div class="t" style="left:772.2px;top:58.5px;font-size:19.5px;line-height:29px;color:#12ee12;font-weight:bold;transform:scale(0.96,1.0);transform-origin:left center;">19.51</div>
<div class="t" style="left:853.5px;top:63.0px;font-size:15px;line-height:22px;color:#12ee12;font-weight:normal;transform:scale(0.94,1.06);transform-origin:left center;">-0.61</div>
<div class="t" style="left:895.5px;top:63.0px;font-size:15px;line-height:22px;color:#12ee12;font-weight:normal;transform:scale(0.94,1.06);transform-origin:left center;">-3.03%</div>
<div class="t" style="left:773px;top:90.3px;font-size:14px;line-height:21px;color:#c6c6c8;font-weight:normal;transform:scale(1.02,0.87);transform-origin:left center;">委比</div>
<div class="t" style="left:835px;top:89.4px;font-size:15px;line-height:22px;color:#12ee12;font-weight:normal;transform:scale(0.94,1.06);transform-origin:left center;">-26.46%</div>
<div class="t" style="left:935px;top:89.4px;font-size:15px;line-height:22px;color:#12ee12;font-weight:normal;transform:scale(0.94,1.06);transform-origin:left center;">- 631</div>
<div class="t" style="left:977.6px;top:87.1px;font-size:17px;line-height:25px;color:#c8c9cc;font-weight:normal;-webkit-text-stroke:0.5px currentColor;">¥</div>
<div class="t" style="left:792px;top:110.6px;font-size:15px;line-height:22px;color:#c6c6c8;font-weight:normal;transform:scale(0.94,1.06);transform-origin:left center;">5</div>
<div class="t" style="right:148.5px;top:110.6px;font-size:15px;line-height:22px;color:#12ee12;font-weight:normal;transform:scale(0.94,1.06);transform-origin:right center;">19.55</div>
<div class="t" style="right:73.5px;top:110.6px;font-size:15px;line-height:22px;color:#12e0f0;font-weight:normal;transform:scale(0.94,1.06);transform-origin:right center;">130万</div>
<div class="t" style="left:792px;top:130.6px;font-size:15px;line-height:22px;color:#c6c6c8;font-weight:normal;transform:scale(0.94,1.06);transform-origin:left center;">4</div>
<div class="t" style="right:148.5px;top:130.6px;font-size:15px;line-height:22px;color:#12ee12;font-weight:normal;transform:scale(0.94,1.06);transform-origin:right center;">19.54</div>
<div class="t" style="right:73.5px;top:130.6px;font-size:15px;line-height:22px;color:#12e0f0;font-weight:normal;transform:scale(0.94,1.06);transform-origin:right center;">43万</div>
<div class="t" style="left:792px;top:150.6px;font-size:15px;line-height:22px;color:#c6c6c8;font-weight:normal;transform:scale(0.94,1.06);transform-origin:left center;">3</div>
<div class="t" style="right:148.5px;top:150.6px;font-size:15px;line-height:22px;color:#12ee12;font-weight:normal;transform:scale(0.94,1.06);transform-origin:right center;">19.53</div>
<div class="t" style="right:73.5px;top:150.6px;font-size:15px;line-height:22px;color:#12e0f0;font-weight:normal;transform:scale(0.94,1.06);transform-origin:right center;">24万</div>
<div class="t" style="left:792px;top:170.6px;font-size:15px;line-height:22px;color:#c6c6c8;font-weight:normal;transform:scale(0.94,1.06);transform-origin:left center;">2</div>
<div class="t" style="right:148.5px;top:170.6px;font-size:15px;line-height:22px;color:#12ee12;font-weight:normal;transform:scale(0.94,1.06);transform-origin:right center;">19.52</div>
<div class="t" style="right:73.5px;top:170.6px;font-size:15px;line-height:22px;color:#12e0f0;font-weight:normal;transform:scale(0.94,1.06);transform-origin:right center;">35万</div>
<div class="t" style="left:792px;top:190.6px;font-size:15px;line-height:22px;color:#c6c6c8;font-weight:normal;transform:scale(0.94,1.06);transform-origin:left center;">1</div>
<div class="t" style="right:148.5px;top:190.6px;font-size:15px;line-height:22px;color:#12ee12;font-weight:normal;transform:scale(0.94,1.06);transform-origin:right center;">19.51</div>
<div class="t" style="right:73.5px;top:190.6px;font-size:15px;line-height:22px;color:#12e0f0;font-weight:normal;transform:scale(0.94,1.06);transform-origin:right center;">63万</div>
<div class="t" style="left:792px;top:211.4px;font-size:15px;line-height:22px;color:#c6c6c8;font-weight:normal;transform:scale(0.94,1.06);transform-origin:left center;">1</div>
<div class="t" style="right:148.5px;top:211.4px;font-size:15px;line-height:22px;color:#12ee12;font-weight:normal;transform:scale(0.94,1.06);transform-origin:right center;">19.50</div>
<div class="t" style="right:73.5px;top:211.4px;font-size:15px;line-height:22px;color:#12e0f0;font-weight:normal;transform:scale(0.94,1.06);transform-origin:right center;">61万</div>
<div class="t" style="left:792px;top:231.4px;font-size:15px;line-height:22px;color:#c6c6c8;font-weight:normal;transform:scale(0.94,1.06);transform-origin:left center;">2</div>
<div class="t" style="right:148.5px;top:231.4px;font-size:15px;line-height:22px;color:#12ee12;font-weight:normal;transform:scale(0.94,1.06);transform-origin:right center;">19.49</div>
<div class="t" style="right:73.5px;top:231.4px;font-size:15px;line-height:22px;color:#12e0f0;font-weight:normal;transform:scale(0.94,1.06);transform-origin:right center;">37万</div>
<div class="t" style="left:792px;top:251.4px;font-size:15px;line-height:22px;color:#c6c6c8;font-weight:normal;transform:scale(0.94,1.06);transform-origin:left center;">3</div>
<div class="t" style="right:148.5px;top:251.4px;font-size:15px;line-height:22px;color:#12ee12;font-weight:normal;transform:scale(0.94,1.06);transform-origin:right center;">19.48</div>
<div class="t" style="right:73.5px;top:251.4px;font-size:15px;line-height:22px;color:#12e0f0;font-weight:normal;transform:scale(0.94,1.06);transform-origin:right center;">48万</div>
<div class="t" style="left:792px;top:271.4px;font-size:15px;line-height:22px;color:#c6c6c8;font-weight:normal;transform:scale(0.94,1.06);transform-origin:left center;">4</div>
<div class="t" style="right:148.5px;top:271.4px;font-size:15px;line-height:22px;color:#12ee12;font-weight:normal;transform:scale(0.94,1.06);transform-origin:right center;">19.47</div>
<div class="t" style="right:73.5px;top:271.4px;font-size:15px;line-height:22px;color:#12e0f0;font-weight:normal;transform:scale(0.94,1.06);transform-origin:right center;">12万</div>
<div class="t" style="left:792px;top:291.4px;font-size:15px;line-height:22px;color:#c6c6c8;font-weight:normal;transform:scale(0.94,1.06);transform-origin:left center;">5</div>
<div class="t" style="right:148.5px;top:291.4px;font-size:15px;line-height:22px;color:#12ee12;font-weight:normal;transform:scale(0.94,1.06);transform-origin:right center;">19.46</div>
<div class="t" style="right:73.5px;top:291.4px;font-size:15px;line-height:22px;color:#12e0f0;font-weight:normal;transform:scale(0.94,1.06);transform-origin:right center;">13万</div>
<div class="t" style="left:771.5px;top:142.3px;font-size:14px;line-height:21px;color:#c6c6c8;font-weight:normal;transform:scale(1.02,0.87);transform-origin:left center;">卖</div>
<div class="t" style="left:771.5px;top:162.0px;font-size:14px;line-height:21px;color:#c6c6c8;font-weight:normal;transform:scale(1.02,0.87);transform-origin:left center;">盘</div>
<div class="t" style="left:771.5px;top:243.0px;font-size:14px;line-height:21px;color:#c6c6c8;font-weight:normal;transform:scale(1.02,0.87);transform-origin:left center;">买</div>
<div class="t" style="left:771.5px;top:263.3px;font-size:14px;line-height:21px;color:#c6c6c8;font-weight:normal;transform:scale(1.02,0.87);transform-origin:left center;">盘</div>
<div class="t" style="left:773px;top:315.5px;font-size:14px;line-height:21px;color:#c6c6c8;font-weight:normal;transform:scale(1.02,0.87);transform-origin:left center;">最新</div>
<div class="t" style="right:126.5px;top:314.6px;font-size:15px;line-height:22px;color:#12ee12;font-weight:normal;transform:scale(0.94,1.06);transform-origin:right center;">19.51</div>
<div class="t" style="left:898.5px;top:315.5px;font-size:14px;line-height:21px;color:#c6c6c8;font-weight:normal;transform:scale(1.02,0.87);transform-origin:left center;">开盘</div>
<div class="t" style="right:5.5px;top:314.6px;font-size:15px;line-height:22px;color:#12ee12;font-weight:normal;transform:scale(0.94,1.06);transform-origin:right center;">19.73</div>
<div class="t" style="left:773px;top:335.5px;font-size:14px;line-height:21px;color:#c6c6c8;font-weight:normal;transform:scale(1.02,0.87);transform-origin:left center;">涨跌</div>
<div class="t" style="right:126.5px;top:334.6px;font-size:15px;line-height:22px;color:#12ee12;font-weight:normal;transform:scale(0.94,1.06);transform-origin:right center;">-0.61</div>
<div class="t" style="left:898.5px;top:335.5px;font-size:14px;line-height:21px;color:#c6c6c8;font-weight:normal;transform:scale(1.02,0.87);transform-origin:left center;">最高</div>
<div class="t" style="right:5.5px;top:334.6px;font-size:15px;line-height:22px;color:#12ee12;font-weight:normal;transform:scale(0.94,1.06);transform-origin:right center;">19.81</div>
<div class="t" style="left:773px;top:355.5px;font-size:14px;line-height:21px;color:#c6c6c8;font-weight:normal;transform:scale(1.02,0.87);transform-origin:left center;">涨幅</div>
<div class="t" style="right:126.5px;top:354.6px;font-size:15px;line-height:22px;color:#12ee12;font-weight:normal;transform:scale(0.94,1.06);transform-origin:right center;">-3.03%</div>
<div class="t" style="left:898.5px;top:355.5px;font-size:14px;line-height:21px;color:#c6c6c8;font-weight:normal;transform:scale(1.02,0.87);transform-origin:left center;">最低</div>
<div class="t" style="right:5.5px;top:354.6px;font-size:15px;line-height:22px;color:#12ee12;font-weight:normal;transform:scale(0.94,1.06);transform-origin:right center;">19.16</div>
<div class="t" style="left:773px;top:375.5px;font-size:14px;line-height:21px;color:#c6c6c8;font-weight:normal;transform:scale(1.02,0.87);transform-origin:left center;">总量</div>
<div class="t" style="right:126.5px;top:374.6px;font-size:15px;line-height:22px;color:#12e0f0;font-weight:normal;transform:scale(0.94,1.06);transform-origin:right center;">13.94万</div>
<div class="t" style="left:898.5px;top:375.5px;font-size:14px;line-height:21px;color:#c6c6c8;font-weight:normal;transform:scale(1.02,0.87);transform-origin:left center;">量比</div>
<div class="t" style="right:5.5px;top:374.6px;font-size:15px;line-height:22px;color:#12e0f0;font-weight:normal;transform:scale(0.94,1.06);transform-origin:right center;">0.95</div>
<div class="t" style="left:773px;top:395.5px;font-size:14px;line-height:21px;color:#c6c6c8;font-weight:normal;transform:scale(1.02,0.87);transform-origin:left center;">成交额</div>
<div class="t" style="right:126.5px;top:394.6px;font-size:15px;line-height:22px;color:#12e0f0;font-weight:normal;transform:scale(0.94,1.06);transform-origin:right center;">2.72亿</div>
<div class="t" style="left:898.5px;top:395.5px;font-size:14px;line-height:21px;color:#c6c6c8;font-weight:normal;transform:scale(1.02,0.87);transform-origin:left center;">换手</div>
<div class="t" style="right:5.5px;top:394.6px;font-size:15px;line-height:22px;color:#12e0f0;font-weight:normal;transform:scale(0.94,1.06);transform-origin:right center;">2.16%</div>
<div class="t" style="left:773px;top:415.5px;font-size:14px;line-height:21px;color:#c6c6c8;font-weight:normal;transform:scale(1.02,0.87);transform-origin:left center;">振幅</div>
<div class="t" style="right:126.5px;top:414.6px;font-size:15px;line-height:22px;color:#12e0f0;font-weight:normal;transform:scale(0.94,1.06);transform-origin:right center;">3.23%</div>
<div class="t" style="left:898.5px;top:414.5px;font-size:14px;line-height:21px;color:#c6c6c8;font-weight:normal;"><span class="cj" style="display:inline-block">换手<span class="q">(</span>实<span class="q">)</span></span></div>
<div class="t" style="right:5.5px;top:414.6px;font-size:15px;line-height:22px;color:#12e0f0;font-weight:normal;transform:scale(0.94,1.06);transform-origin:right center;">3.11%</div>
<div class="t" style="left:773px;top:435.5px;font-size:14px;line-height:21px;color:#c6c6c8;font-weight:normal;transform:scale(1.02,0.87);transform-origin:left center;">涨停</div>
<div class="t" style="right:126.5px;top:434.6px;font-size:15px;line-height:22px;color:#ff3434;font-weight:normal;transform:scale(0.94,1.06);transform-origin:right center;">24.14</div>
<div class="t" style="left:898.5px;top:435.5px;font-size:14px;line-height:21px;color:#c6c6c8;font-weight:normal;transform:scale(1.02,0.87);transform-origin:left center;">跌停</div>
<div class="t" style="right:5.5px;top:434.6px;font-size:15px;line-height:22px;color:#12ee12;font-weight:normal;transform:scale(0.94,1.06);transform-origin:right center;">16.10</div>
<div class="t" style="left:773px;top:455.5px;font-size:14px;line-height:21px;color:#c6c6c8;font-weight:normal;transform:scale(1.02,0.87);transform-origin:left center;">外盘</div>
<div class="t" style="right:126.5px;top:454.6px;font-size:15px;line-height:22px;color:#ff3434;font-weight:normal;transform:scale(0.94,1.06);transform-origin:right center;">6.28万</div>
<div class="t" style="left:898.5px;top:455.5px;font-size:14px;line-height:21px;color:#c6c6c8;font-weight:normal;transform:scale(1.02,0.87);transform-origin:left center;">内盘</div>
<div class="t" style="right:5.5px;top:454.6px;font-size:15px;line-height:22px;color:#12ee12;font-weight:normal;transform:scale(0.94,1.06);transform-origin:right center;">7.66万</div>
<div class="t" style="left:773px;top:474.5px;font-size:14px;line-height:21px;color:#c6c6c8;font-weight:normal;"><span class="cj" style="display:inline-block">市盈<span class="q">(</span>静<span class="q">)</span></span></div>
<div class="t" style="right:126.5px;top:474.6px;font-size:15px;line-height:22px;color:#12e0f0;font-weight:normal;transform:scale(0.94,1.06);transform-origin:right center;">28.48</div>
<div class="t" style="left:898.5px;top:474.5px;font-size:14px;line-height:21px;color:#c6c6c8;font-weight:normal;"><span class="cj" style="display:inline-block">市盈<span class="p">(TTM)</span></span></div>
<div class="t" style="right:5.5px;top:474.6px;font-size:15px;line-height:22px;color:#12e0f0;font-weight:normal;transform:scale(0.94,1.06);transform-origin:right center;">27.35</div>
<div class="t" style="left:773px;top:495.5px;font-size:14px;line-height:21px;color:#c6c6c8;font-weight:normal;transform:scale(1.02,0.87);transform-origin:left center;">总市值</div>
<div class="t" style="right:126.5px;top:494.6px;font-size:15px;line-height:22px;color:#12e0f0;font-weight:normal;transform:scale(0.94,1.06);transform-origin:right center;">128.99亿</div>
<div class="t" style="left:898.5px;top:495.5px;font-size:14px;line-height:21px;color:#c6c6c8;font-weight:normal;transform:scale(1.02,0.87);transform-origin:left center;">流通值</div>
<div class="t" style="right:5.5px;top:494.6px;font-size:15px;line-height:22px;color:#12e0f0;font-weight:normal;transform:scale(0.94,1.06);transform-origin:right center;">126.19亿</div>
<div class="t" style="left:773px;top:515.5px;font-size:14px;line-height:21px;color:#c6c6c8;font-weight:normal;transform:scale(1.02,0.87);transform-origin:left center;">总股本</div>
<div class="t" style="right:126.5px;top:514.6px;font-size:15px;line-height:22px;color:#12e0f0;font-weight:normal;transform:scale(0.94,1.06);transform-origin:right center;">6.61亿</div>
<div class="t" style="left:898.5px;top:515.5px;font-size:14px;line-height:21px;color:#c6c6c8;font-weight:normal;transform:scale(1.02,0.87);transform-origin:left center;">流通股</div>
<div class="t" style="right:5.5px;top:514.6px;font-size:15px;line-height:22px;color:#12e0f0;font-weight:normal;transform:scale(0.94,1.06);transform-origin:right center;">6.47亿</div>
<div class="t" style="left:772.5px;top:540.4px;font-size:15px;line-height:22px;color:#c6c6c8;font-weight:normal;transform:scale(0.94,1.06);transform-origin:left center;">14:56</div>
<div class="t" style="left:856.5px;top:540.4px;font-size:15px;line-height:22px;color:#12ee12;font-weight:normal;transform:scale(0.94,1.06);transform-origin:left center;">19.51</div>
<div class="t" style="right:67px;top:540.4px;font-size:15px;line-height:22px;color:#12ee12;font-weight:normal;transform:scale(0.94,1.06);transform-origin:right center;">5</div>
<div class="t" style="right:14.5px;top:540.4px;font-size:15px;line-height:22px;color:#12e0f0;font-weight:normal;transform:scale(0.94,1.06);transform-origin:right center;">1</div>
<div class="t" style="left:772.5px;top:565.4px;font-size:15px;line-height:22px;color:#c6c6c8;font-weight:normal;transform:scale(0.94,1.06);transform-origin:left center;">14:57</div>
<div class="t" style="left:856.5px;top:565.4px;font-size:15px;line-height:22px;color:#12ee12;font-weight:normal;transform:scale(0.94,1.06);transform-origin:left center;">19.51</div>
<div class="t" style="right:67px;top:565.4px;font-size:15px;line-height:22px;color:#12ee12;font-weight:normal;transform:scale(0.94,1.06);transform-origin:right center;">1</div>
<div class="t" style="right:14.5px;top:565.4px;font-size:15px;line-height:22px;color:#12e0f0;font-weight:normal;transform:scale(0.94,1.06);transform-origin:right center;">1</div>
<div class="t" style="left:772.5px;top:590.4px;font-size:15px;line-height:22px;color:#c6c6c8;font-weight:normal;transform:scale(0.94,1.06);transform-origin:left center;">15:00</div>
<div class="t" style="left:856.5px;top:590.4px;font-size:15px;line-height:22px;color:#12ee12;font-weight:normal;transform:scale(0.94,1.06);transform-origin:left center;">19.51</div>
<div class="t" style="right:67px;top:590.4px;font-size:15px;line-height:22px;color:#12ee12;font-weight:normal;transform:scale(0.94,1.06);transform-origin:right center;">1862</div>
<div class="t" style="right:14.5px;top:590.4px;font-size:15px;line-height:22px;color:#12e0f0;font-weight:normal;transform:scale(0.94,1.06);transform-origin:right center;">190</div>
<div class="t" style="left:772.5px;top:615.4px;font-size:15px;line-height:22px;color:#c6c6c8;font-weight:normal;transform:scale(0.94,1.06);transform-origin:left center;">15:11</div>
<div class="t" style="left:856.5px;top:615.4px;font-size:15px;line-height:22px;color:#12ee12;font-weight:normal;transform:scale(0.94,1.06);transform-origin:left center;">19.51</div>
<div class="t" style="right:55.5px;top:615.4px;font-size:15px;line-height:22px;color:#f0f0f0;font-weight:normal;transform:scale(0.94,1.06);transform-origin:right center;">7</div>
<div class="t" style="right:14.5px;top:615.4px;font-size:15px;line-height:22px;color:#12e0f0;font-weight:normal;transform:scale(0.94,1.06);transform-origin:right center;">0</div>
<div class="t" style="left:587.0px;width:400px;text-align:center;top:643.7px;font-size:14px;line-height:21px;color:#f2f2f2;font-weight:normal;transform:scale(1.02,0.87);transform-origin:center center;">明细</div>
<div class="t" style="left:626.0px;width:400px;text-align:center;top:643.7px;font-size:14px;line-height:21px;color:#c6c6c8;font-weight:normal;transform:scale(1.02,0.87);transform-origin:center center;">资金</div>
<div class="t" style="left:665.0px;width:400px;text-align:center;top:643.7px;font-size:14px;line-height:21px;color:#c6c6c8;font-weight:normal;transform:scale(1.02,0.87);transform-origin:center center;">财务</div>
<div class="t" style="left:704.0px;width:400px;text-align:center;top:643.7px;font-size:14px;line-height:21px;color:#c6c6c8;font-weight:normal;transform:scale(1.02,0.87);transform-origin:center center;">股性</div>
<div class="t" style="left:743.5px;width:400px;text-align:center;top:643.7px;font-size:14px;line-height:21px;color:#c6c6c8;font-weight:normal;transform:scale(1.02,0.87);transform-origin:center center;">筹码</div>
</body></html>
